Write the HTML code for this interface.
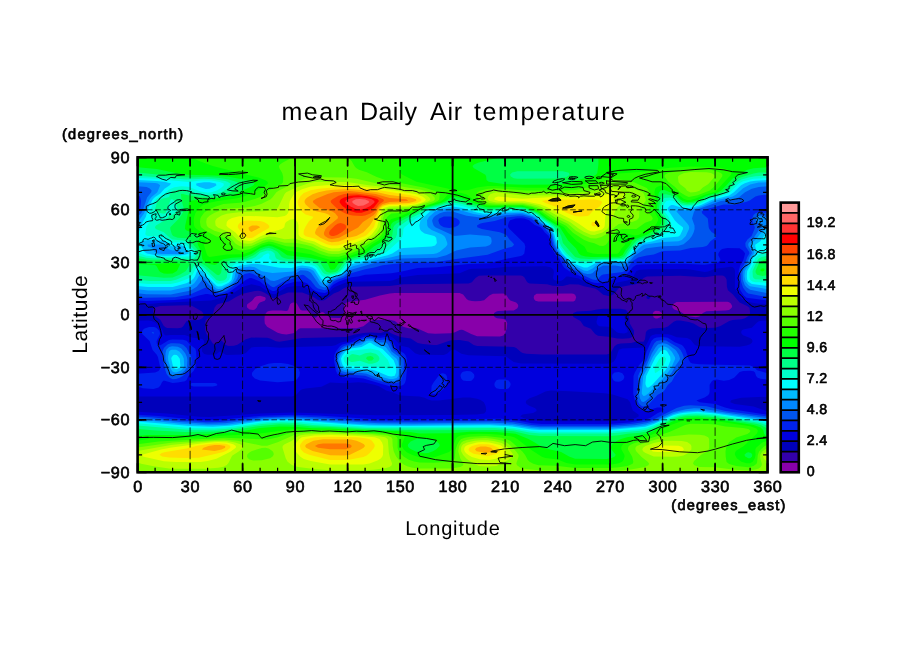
<!DOCTYPE html>
<html><head><meta charset="utf-8"><title>mean Daily Air temperature</title>
<style>
html,body{margin:0;padding:0;background:#fff}
svg{display:block;will-change:transform}
text{font-family:"Liberation Sans",sans-serif;fill:#000;text-rendering:geometricPrecision}
.b{font-size:16.2px;letter-spacing:.7px;stroke:#000;stroke-width:.65px}
.t{font-size:25px}
.a{font-size:20px}
#lat{font-size:21px}
.u{font-size:14.6px;stroke:#000;stroke-width:.7px}
</style></head><body>
<svg width="904" height="654" viewBox="0 0 904 654">
<rect width="904" height="654" fill="#fff"/>
<clipPath id="c"><rect x="137.6" y="157.3" width="630.0" height="315.0"/></clipPath>
<g clip-path="url(#c)" shape-rendering="geometricPrecision">
<rect x="137.6" y="157.3" width="630.0" height="315.0" fill="#8800aa"/>
<path fill="#3300aa" d="M137.6 157.3l630 0 0 315 -630 0zM254.8 297.3l-2.7 3.5 -4.8 3.5 -0.5 1.7 0.5 1.8 2.3 1.8 3.5 0.4 1.7-0.5 1.8-1.7 1.6-3.5 1.7-1.7 4.8-1.8 1.1-1.7 -0.6-1.8 -5.1-1.5 -3.5 0.4zM389.6 293.4l-9.7 2.2 -14.8 4.2 -17.5 2.1 -1.8 1.1 -1.8 3 0 7 -1.2 3.6 -2.2 1.3 -1.8 0.2 -8.7-0.4 -7-5.4 -1.7 0 -1.8 1.3 -2.3 3 -1.2 0.9 -1.7 0.2 -1.8-1.1 -1.8-3.6 -1.7-2 -1.7-0.6 -5.3 0.1 -1.7-0.8 -3.6-6.3 -1.7-0.9 -1.8-0.1 -1.7 0.5 -1.5 1.4 -2 5.9 -1.7 0.9 -5.3-0.6 -8.7-0.1 -3.6 0.5 -1.7 0.8 -2.3 3.1 -0.3 5.2 0.3 3.5 2.3 3.2 10.5 6 4.3 1.3 4.5 0.4 7-1.1 1.8-1 3.4-3.4 1.8-0.6 56-0.1 7-2 5.7-4.4 4.2-1.8 16.3-0.3 5.2 1.4 5.5 4.2 3.5 1.7 5 1.2 9.4 0.6 9.9 4.4 7 0.5 15.7-0.5 3.6-0.7 5.2-2.5 1.8-0.3 1.7 0.3 8.1 4 5.9 2.3 22.7 0.3 3.6-1.2 1.7-2.1 1.5-4.5 0.6-5.2 -0.5-1.8 -1.6-2.1 -1.7-0.8 -6.4-0.6 -2.4-1.3 -1-2.2 0.6-1.8 2.2-1.5 1.7-0.5 15.7-0.6 3.6-2.1 0.9-2.3 -0.5-1.7 -1.7-1.7 -5.7-2.2 -1.8-1.6 -2-3.2 -1.5-1.4 -1.7-0.6 -10.5 0.2 -3.5 1.7 -5.3 4.7 -3.5 0.9 -5.2 0.1 -3.6-0.1 -3.4-0.9 -1.8-1.3 -3.5-4.4 -3.5-1.4 -64.8-0.2zM536.6 293.7l-2.4 1.9 -0.5 1.7 0.3 1.7 1.4 1.8 3 0.8 33.2 0 1.8-0.2 1.7-1 1.1-3.1 -1.1-2.6 -1.7-1 -1.8-0.2zM655.6 310.7l-1.8 1 -0.8 1.3 -0.3 1.8 1.1 2.6 1.8 1 1.8 0.1 3.4-1.5 1.4-2.2 -0.4-1.8 -2.7-2zM676.6 302l-3.5 2.1 -0.9 2 0.4 1.7 1.7 1.8 5.8 1.8 7 4.5 8.7 1.4 3.6-0.8 3.5-3.5 3.5-1.7 19.2-0.7 3.5-0.6 2.6-2.2 0.5-1.8 -1.4-2.5 -1.7-1.2 -1.8-0.5z"/>
<path fill="#0000bb" d="M137.6 157.3l630 0 0 315 -630 0zM160.3 306l-6.2 1.8 -0.8 1.8 0.1 3.4 1.6 2.9 5.3 3.9 3.4 5.9 1.8 1.6 1.8 0.6 10.4 0.3 3.6-0.5 1.7-1.2 3.5-5.2 3.5-1 8.7-0.4 3.6-1.6 1.4-1.7 -0.6-3.6 -1.6-1.7 -9.7-5.6 -5.3-0.5zM478.9 275.8l-3.4 2.2 -3.6 4.3 -3.4 1.3 -64.8 0.6 -14 1.9 -42 0.6 -4.3 1.9 -4.5 2.8 -5.2 2 -8.8 6.7 -1.7 0.5 -3.5 0 -1.8-0.5 -5.2-3.7 -10.5-3.8 -14 0 -8.7 3.1 -5.3 2.7 -1.7-0.5 -7-4.7 -3.6-1.6 -3.4-0.9 -3.6 0.2 -12.2 2.9 -7.1 3.5 -6.9 4.2 -10.5 2.6 -1.7 0.9 -2 2.8 -1.6 6.5 -1.2 2.3 -4 1.8 -2 1.6 -0.5 3.6 0.1 7 1.3 3.4 6.3 9.5 1.8 1 1.8-0.4 3.4-3 1.8-0.5 3.5 3.8 1.7 1.1 1.8 0.4 5.2-0.2 3.5-0.9 8.4-5.5 5.7-1.7 15.7 0.1 3.5 1 5.2 2.5 3.6 0.5 22.7-3.7 43.7-1 8.8-2.6 8.8-1.4 7-0.4 10.4 0.5 5.3-2 1.7 0.4 4.8 2.6 7.5 2.8 10.5 1.5 7 4.5 5.2 1.2 10.6 1 3.4-0.2 14-4.6 8.8-0.3 8.8 1.6 5.2 3.4 3.5 0.9 36.7 1 2.4 1.1 4.6 4.1 1.8 1 3.5 0.7 15.7 0.8 64.8 0 3.5-1.1 4.3-7.2 2.7-2.1 3.5-0.8 10.5-0.3 5.3-1.7 7 0.3 1.5-2.4 0.9-7 1-1.6 1.8-1.3 3.5-0.9 12.3-0.7 3.4-1.4 5.7-4.6 3.1-1.4 3.5 0 8.7 1.5 4.7 1.7 5.9 3.4 3.4 0.9 12.3-0.1 5.3-1.7 8.7-5.2 3.5-1 8.8-0.7 3.4-1 3.6-2.2 1-1.2 0.6-1.8 -0.6-5.2 -2.4-1.8 -7.5-3.4 -6.9-8.4 -4.8-3.9 -1-3.5 -0.3-7 -0.9-2.1 -1.7-1.6 -1.8-0.5 -5.3-0.1 -12.2 1.8 -24.5-1.6 -33.3 0.8 -3.3 1.5 -3.7 3.9 -3.4 2.2 -14.7 2.7 -2.9 1.2 -5.2 6.2 -3.5 1.7 -1.7 0.2 -5.3-1.3 -5.2-4.5 -2.9-1.7 -11.2-2.4 -5.2-1.8 -8.7-0.2 -7.1 1.7 -5.2 0.2 -5.2-0.4 -5.3-1.4 -17.5-0.8 -1.8-0.7 -1.2-1.2 -2.2-4 -1.8-1.5 -1.8-0.5 -36.7-0.2zM647.2 295.6l1.4-0.5 1.8 1.5 0 1.2 -1.8 1.5 -1.8-0.9 -0.4-1.1zM596.9 309.6l6.2-0.8 17.5 0 5.2 1 2.8 3.2 1.2 10.6 4.1 7 0.2 3.4 -0.7 1.8 -2.2 1.8 -1.8 0.7 -7 0.5 -5.3-0.3 -8.7-1.8 -10.5-0.9 -2.8-1.8 -4.3-5.2 -7-2.7 -3.4-5.1 -7-4 -1-2.2 1-1.8 3.4-1.6 14-0.6z"/>
<path fill="#0000dd" d="M137.6 157.3l630 0 0 147 -10.5-0.7 -8.7-1.6 -3.6-1 -3.4-2.5 -6.5-9.9 0.1-17.6 -0.6-2.3 -1.8-1.6 -1.8-0.3 -15.7 2 -7 2.6 -3.5 0.6 -14-2.5 -5.2-0.4 -36.8 0.1 -8.8 0.6 -3.4 1.3 -3.6 6.3 -1.7 1.7 -3.5 1.4 -10.5 2 -1.7 1.3 -4.1 4.8 -2.9 1.3 -1.8-0.4 -5.2-3.1 -7-1 -5.3-1.4 -10.5-5.4 -10.5-2.2 -1.7 0 -3.3 3.4 -2 0.9 -3.5 0.2 -3.5-0.8 -1.2-2.1 0.9-5.2 0-1.8 -0.7-1.7 -2.5-2.1 -5.2-0.9 -38.6 0.4 -17.4 1.8 -17.6 0.3 -3.4 0.6 -8.8 3.9 -42 1.7 -17.5 2.5 -7 2.8 -3.5 0.8 -40.2 0.7 -3.6 0.8 -10.4 4.1 -2.8 1.9 -4.3 5.2 -1.7 1.2 -3.5 0.7 -3.5-0.3 -3.5-1 -5.3-2.8 -6.3-4.8 -4.1-0.8 -7 0.2 -7 1 -10.5 6.6 -1.8 0.5 -1.7-0.3 -3.6-1.7 -8.7-6 -8.7-2.1 -8.8 2.8 -10.1 6.8 -3.9 1.9 -17.5 4.8 -52.5 2.5 -14 1.5 -7-0.2zM599.5 314.8l3.6-1 12.3-0.1 5.2 0.1 3.2 1 0.8 1.8 0.5 8.7 2.5 5.3 0 1.7 -3.5 1.1 -5.3-0.3 -1.9-0.8 -5.1-4.5 -3.4-1 -8.8-0.6 -1.7-0.9 -1.1-1.7 -0.3-1.8 1.3-5.2zM137.6 321.8l0-1.1 10.5-0.1 3.5 0.5 3.5 1.3 5.3 4.5 2.2 3.7 1.2 3.3 1.8 1.5 5.2-0.5 14 0.2 7 2.4 10.6 1.4 1.7 2.1 -0.1 1.8 -2.1 5.2 0.2 3.6 2 2.4 3.5 0.8 7 0 1.8-0.5 3.4-2.8 1.8 0.6 3.5 2.5 1.7 0.3 15.8-0.3 3.5-1.8 5.3-5.2 3.4-0.7 12.3-0.1 12.3 1 17.4-0.9 35-0.8 3.6-0.9 5.2-2.7 7.6-1.5 8.2-3.8 8.7-2.4 7-0.3 8.7 1.2 5.3-1.1 1.7 0.3 4.7 2.7 2.3 1.7 5.3 5.8 1.7 1 7 1.4 6.3 5.8 4.3 1.4 24.4 0.3 3.6-1.4 3.4-3.3 1.8-0.9 2.4 0.4 6.4 3.9 7 1.5 36.7 1.1 1.7 0.7 6.9 5.1 7.1 1.5 84 0.2 5.3-0.3 3.5-1.7 2.3-3.2 2.9-8.9 3.6-1.1 21-1.2 1.7-1 1.7-2.4 3.6-7.6 1.7-1.2 3.5-0.9 12.3-0.1 3.5 0.8 5.2 2.2 10.5 0.9 3.5 1.7 3.8 4.8 1.4 0.9 3.6 0.8 40.2 0.4 7-1.1 3.5-1.3 1.8-1.5 0.7-1.8 -0.8-1.7 -1.7-1.4 -7-2.7 -1.3-1.2 -0.7-1.7 0.6-1.7 1.4-1.1 8.7-1.7 5.3-5.3 1.7-1.2 3.6-0.6 5.2 0 0 76 -26.2 1.1 -8.8 2 -1.8 0.8 -0.5 1.7 4.4 1.7 18.9 2.6 14 4.9 0 60.8 -630 0 0-60.5 29.7 1.7 31.5 3.2 10.6 0.2 50.7-3.4 33.3-1.1 82.2 2.9 73.5-0.2 28-0.6 7-0.9 1.7-1.8 0.4-2.5 -0.7-3.5 -1.6-3.5 -3.3-2.4 -3.5-1.2 -7-1.1 -7 0 -24.5 2.8 -7 0.1 -3.5-1 -3.5-1.8 -5.2-1.2 -19.3-1.1 -7-2.8 -7-2.1 -6.6-3.9 -5-1.8 -9.4-2 -7-0.6 -14 1.1 -14-0.9 -8.7 4.3 -15.8 1.7 -3.5 0.9 -1.7 1 -4.6 5 -4.2 1.1 -154 0.2zM545.4 391.4l-8.8 4.3 -7 2.5 -3.3 2.4 -0.6 1.7 0.8 1.7 2.7 1.8 5.6 2.3 1.5 1.2 0.3 1.8 -3.5 2 -10.5 1.5 -2.4 1.7 3.3 1.7 6.1 2 15.8 1.3 64.7-0.1 19.1-1.4 6.4-1.8 3.2-1.7 -0.3-1.7 -5.7-4.2 -2.7-8.1 -2.5-3 -15.8-5 -7-1 -35-2.1 -19.2-0.7z"/>
<path fill="#0022ee" d="M137.6 157.3l630 0 0 143.3 -21-2.9 -2.8-2.2 -3.4-5.2 -1.6-5.3 -0.1-14 1.4-5.2 3.1-5.2 1.9-7 -2-2.9 -3.5-2.4 -12.3-0.2 -5.2 1 -1.7 1.1 -2 3.4 -0.1 1.7 1.9 3.5 0.2 1.8 -2.1 1.7 -3.2 0.9 -10.5 1.5 -21-1 -40.2 0.5 -7 0.5 -3.5 2.2 -6.4 7.7 -2.4 1.6 -8.7 1.3 -7 4.7 -5.3-0.3 -5.3 1 -3.4-0.1 -3.6-1 -13.9-7.4 -7.1-2.8 -5.2-3.5 -1.8-2.3 -3.4-6.9 -3.5-3.6 -4.2-7 -2.9-12.3 -4-3.4 -2.4-3.6 -2-1.7 -5.6-2.4 -5.7-4.6 -4.8-1.7 -3.5-0.4 -5.3 0.4 -5.3 1.7 -1.2 1.7 -1.1 3.6 0.3 1.7 1.4 1.8 14.8 14.5 0.9 3 -1 7 -1.7 1.7 -1.8 0.7 -17.4 3.4 -14 3.8 -21 0.9 -31.6 3.2 -19.2 0.6 -15.8 3.5 -10.4 1.8 -26.3 1.6 -7 1.7 -7 0.8 -12.2 4.3 -5.3 2.9 -2.4 2.3 -2.8 3.9 -1.8 1.6 -1.8 0.6 -5.2-0.6 -3.5-1.1 -3.5-2.2 -5.2-5.4 -3.6-1.7 -3.4-0.4 -5.3 0.3 -8.7 2.1 -5.3 2.5 -5.3 4.2 -1.7 0.5 -1.7-0.1 -3.6-2 -8.7-7.4 -8.7-3.7 -1.8 0.2 -3.5 1.7 -17.5 12.8 -7 2.6 -5.2 0.6 -8.8-1.8 -1.8 0 -6.9 1.4 -8.8 2.9 -15.7 1.7 -28 1.1 -8.8-0.5zM149.1 327.1l4.3-0.2 1.7 0.4 1.7 1 2.4 2.4 0.7 1.7 0.1 1.7 -3.4 7.1 0.2 2.5 1.8 1.8 1.8-0.2 8.7-5.2 3.5-0.5 10.5 0.2 3.5 1 3.5 4 5.3 4 0.7 2.9 0.4 6.9 -1.2 8.8 -1.8 3.5 -5.1 5.1 -1.8 3.9 -1.7 1.3 -7.1 1.4 -5.2 0.3 -8.8-2.3 -1.7 1.3 -1.7 3.7 -1.8 1.9 -5.2 1.4 -10.6-0.7 -3.4-1.2 -1.7-2.1 -0.1-11.2 17.5-1.3 3.5-1.5 1.3-1.8 0.4-1.7 -2.4-10.5 -1.1-2.2 -4.2-4.8 -3-8.8 -7.3-7 -0.5-1.7 1-2.3 1.8-1.5zM362 337.6l3.1-1.2 5.3-0.6 8.7 2.1 7-0.9 1.7 0.5 4.4 3.5 4.4 7.8 7.3 4.5 1.5 1.7 1.4 3.6 0.3 8.7 -1.1 12.3 -1.1 3.4 -1.5 1.8 -3.3 1.5 -10.5-0.1 -26.2-7.6 -7-0.9 -14-0.5 -4.8-2.9 -1.7-3.5 -1.9-10.5 0.4-5.3 1.5-3.4 4-5.3 2.5-1.7 10.4-2.9zM656.6 337.6l6-0.5 5.2 0.7 7 4.5 7.1 2.8 1.7 1.6 1.9 3.1 3.4 10.5 1.7 2.5 1.8 0.7 7 0.7 50.7 1.2 4.2 1.9 2.8 2.9 10.5 3.1 0 7.6 -1.8-1.6 -5.2-0.5 -2.9-1 -1.6-1.8 -1.1-3.4 -1.4-1.4 -3.5-0.4 -7 0.2 -3.5 1 -5.5 5.8 -5 2.1 -5.3 0.8 -7-1.1 -3.4 0.5 -1.8 1.3 -2 3.4 0 7 -0.3 1.8 -1.2 1.7 -3.5 2.2 -8.2 3.1 3.2 1.7 15.5 1.7 9.9 3.6 6.8 1.7 35.8 5.4 0 57.6 -630 0 0-57.5 21 1.1 38.5 4 10.5 0.4 8.8-0.1 45.4-4.4 31.6-1 24.4 0.7 64.8 4.2 119-1 15.8 1.8 14.6 2.8 9.8 0.8 68.3-0.1 19.3-1.6 15.9-2.6 4.9-1.8 7.2-4.7 5.2-2.3 1.1-1.7 -1.9-1.7 -4.4-0.2 -3.6 1 -5.9 2.7 -2.8 0.2 -3.5-1.3 -3.6-2.4 -2.2-3.6 -2.6-10.5 0.3-17.5 1.3-3.4 4.1-7.1 5.9-6.9 1.8-7 4.8-10.6 2.4-2.4zM268.3 363.8l5.8-0.8 7 0 7 1.1 5.3 1.7 3.4 1.7 1.9 1.5 1.2 3.6 -0.5 3.4 -2.6 3.5 -3.4 1.6 -15.8 1.1 -17.5-1.7 -5.3-2.1 -2.5-2.4 -0.4-1.7 0.3-1.7 3-3.6 4.9-2.6zM462 372.6l1.1-0.9 3.5-0.6 3.5 0.2 1.7 0.6 2.2 2.4 0.4 1.7 -0.3 1.8 -2.3 2.6 -1.7 0.5 -3.5 0.1 -3.5-0.6 -1.7-1.6 -0.9-2.8 0.3-1.7zM614.6 372.6l4.2-0.5 3.5 1.2 1.9 2.7 0 1.8 -0.8 1.8 -2.5 1.7 -2.1 0.4 -3.4-0.3 -1.8-0.8 -1.5-2.8 -0.1-1.8 0.6-1.7zM439.8 374.3l2.3-1.1 1.7 0.2 1.8 0.9 1.2 1.7 0.5 3.6 -0.4 5.2 -2.6 3.5 -4.2 3.5 -3.3 1.8 -3.4 0.3 -1-0.3 -1.1-1.8 0.3-5.7 1.6-3.1zM499 379.6l6.1-0.1 3.5 0.9 1.8 2.6 0.2 1.8 -0.6 1.8 -1.4 1.6 -1.8 0.8 -7 0.1 -3.4-0.9 -1.5-1.7 -0.5-1.7 0.2-1.8 1.8-2.7zM191.5 383.1l23.1-0.1 1.8 0.6 1.1 1.3 -1.1 0.9 -3.6 0.8 -19.2-0.1 -1.8-0.4 -1.6-1.2z"/>
<path fill="#0055ee" d="M137.6 157.3l630 0 0 37.6 -3.5-0.2 -5.3 0.7 -3.4 1.2 -5.3 3.7 -3.5 1.5 -12.2 2.9 -10.6-0.2 -19.6 5.3 -2.5 1.8 0.4 1.7 5.7 5.3 0.9 8.7 0.6 1.7 2.3 3 3.5 2.3 1.2 1.7 -1.2 1.8 -4.7 3.5 -2.5 3.5 -1.5 1.3 -3.6 0.9 -12.2 1.1 -10.5 2.3 -17.5 0.7 -8.8 3.3 -7 1 -8.7 2.2 -5.3 3.4 -5 6.6 -3.7 3.6 -1.7 0.8 -19.3 2.5 -1.7 0.7 -3.6 3.9 -1.7 0.8 -3.5-0.5 -8.7-3.8 -7.1-4.3 -7-2.8 -3.2-2.7 -4.3-7 -5.2-5.2 -3.6-7 -2.9-11.2 -6.7-8.1 -6.1-3.5 -6.4-5.4 -8.8-2.2 -5.2 0 -12.3 1.5 -10.5 3.3 -12.2 2.1 -2.6 0.7 -2.8 1.8 0.3 1.7 4.5 1.7 18 3.2 5.3 2 2 1.8 2.4 3.6 3.5 3.4 1.1 1.8 -2 2 -8.7 2.2 -15.8 5.8 -35 4.6 -17.5 2.9 -33.3 0.7 -19.2 2.3 -8.2 2.3 -9.3 1.7 -14 3.9 -7 4.2 -7 2.4 -3.4 1.8 -7.1 8 -1.8 0.7 -6.9-1.8 -2.3-1.7 -4.8-6.2 -7-5.6 -1.7-0.3 -1.7 0.5 -5.3 2.7 -12.3 4.1 -8.7 5.3 -1.7-0.2 -1.8-1 -8.8-7.4 -8.7-4.7 -3.5-1 -5.2 1.1 -1.8 1.7 -2.2 4 -3.5 3.5 -10.1 7.5 -5.2 2.3 -3.5 0.4 -3.5-0.7 -5.3-3.9 -3.5-1.5 -15.7 7.2 -15 2.7 -30.5 0.5 -7-0.7 0-85 2.2-2.3 0.6-1.8 0.6-7 -0.7-3.4 -0.9-1.7 -1.8-1zM443.9 216.4l-4.6 2.2 -1 1.7 1 3.5 1.5 1.8 3.1 1.7 5.3 0.6 5.2-0.6 3.6-1.7 1.4-1.8 0.3-1.8 -0.6-1.7 -2.4-1.7 -5.8-2zM755.5 213.3l3.3-1 7 0.4 1.8-0.6 0 85 -19.3-3.5 -2-1.6 -3.2-4.3 -2.1-6.1 -0.3-8.8 0.7-3.5 4-7 1.9-5.3 2.1-3.4 -0.3-1.8 -3.5-5.2 -0.3-3.6 2.2-3.4 4.1-3.6 2.9-7 0.4-1.7 -2.2-5.3 -0.5-3.4 1.3-3.6zM151.6 332.3l2.2 0 -0.4 1.6zM366.7 337.6l5.4-0.2 7 2.7 7-0.7 1.7 0.8 2.3 2.6 3.1 7 9.3 7 1.3 3.5 0.1 7 -1.3 8.7 -1.3 3.6 -1.3 1.7 -1.6 1.1 -3.6 0.8 -7-0.3 -12.2-3.2 -10.5-3.9 -21-1.5 -3.5-1.4 -1.8-1.9 -1.4-3.7 -1.4-8.7 1.6-5.3 3.6-5.3 2.9-2.1 10.9-3.1zM656.7 341.1l4.1-0.8 5.3 0.3 12.3 7.2 2.1 2.1 1.9 3.5 1.3 3.5 0.1 3.5 -5.4 10.5 -3.8 5.3 -2.8 5.2 -4 3.5 -3.1 5.2 -1.9 1.8 -5.4 3.1 -8.8 9.5 -3.5 1.9 -1.7 0.1 -1.8-0.4 -2.3-2 -1.2-2.2 -1.1-4.8 -0.2-5.2 1.4-7 -0.1-8.8 1.3-3.4 7.4-12.1 3.1-8.9 3.5-7 1.1-1.8zM167.5 344.6l3.3-1.3 3.6-0.1 5.2 0.4 3.5 1.2 3.5 3.1 4.5 8.9 0.4 3.5 -0.5 5.3 -1.4 3.4 -6.5 6.8 -3.5 2 -3.5 1.1 -3.5 0.3 -2.9-1.4 -3-3.5 -1.2-3.5 -2.8-12.2 -0.2-7.1 1.4-3.5zM684.3 405.8l6.3-0.5 15.8 1 19 4.7 42.2 5.6 0 55.7 -630 0 0-55.7 14 0.7 28 3 26.2 1.9 14-0.3 42-4.6 33.3-1 31.5 1.5 29.8 2.7 19.2 1.1 33.3 0.2 87.5-0.8 17.4 1.1 17.6 2.9 8.7 0.7 68.3 0.1 24.4-2 14.2-2.2 6.1-1.8 23.5-11.9z"/>
<path fill="#0088ff" d="M137.6 157.3l630 0 0 28.9 -8.8 0.8 -7 1.8 -6.8 3.5 -5.4 4.4 -3.5 2 -3.5 1.1 -11.7 1.2 -24.5 8.8 -2.3 1.8 -2.1 7 2.5 7 0.1 3.4 -1 3.6 -1.7 3.4 -2.7 3.6 -5.6 4.6 -5.2 1.6 -15.8 0.5 -15.8 1.9 -1.7 0.6 -10.5 6.9 -7 7.9 -3.5 2.8 -1.7 0.4 -7-1.4 -12.3 0.2 -6.5 3.7 -4 3.7 -1.8 0.8 -3.4 0.2 -3.6-0.8 -5.2-3.3 -5.9-2.3 -2.9-1.8 -5.5-7 -4.9-4.7 -1.7-2.3 -3.2-7 -2.2-8.8 -3.5-5.8 -3.4-3.6 -7-4.5 -3.7-3.5 -3.3-1.8 -8.8-2.3 -3.5-0.2 -12.3 0.8 -15.7 2.5 -10.5 0 -14-1.8 -14-4.2 -5.2-0.2 -3.6 0.5 -4 1.4 -4.7 2.6 -1.7 1.8 -1.2 2.6 0.2 1.7 1.2 3.6 1.7 1.7 19.1 8.6 15.7-1.3 18.5 1.4 2.5 1.8 0.6 3.5 -0.6 2.4 -1.7 1.6 -3.6 1.1 -15.7 1.1 -14 2.9 -9.9 4.9 -9.4 2.4 -35 0.9 -24.9 3.7 -25.8 7.5 -7 5.6 -11 4.4 -6.5 6.8 -1.8 0.8 -2.4-0.6 -2.8-1.6 -8.7-12.4 -3-1.8 -2.3-0.6 -5.2-0.1 -7 4.6 -8.8 2.2 -7 3 -3.5 0.9 -3.5-0.5 -5.2-3.8 -7-3.2 -5.3-3.4 -5.3-0.7 -5.2 0.7 -2.2 0.9 -1.5 1.8 -1.5 5.2 -2.2 3.6 -4.8 4.4 -5.3 3.4 -3.5 1.5 -3.5 0.4 -2.9-1 -5.8-5.3 -3.6-4 -1.7-1.2 -1.7 0 -5.7 7 -4.9 3 -3.4 1.2 -17.6 3.5 -24.4-0.2 -8.8-1.1 0-76.6 3.5-3.4 1.7-2.7 4.3-12.9 4.1-5.3 0.4-1.7 -1.8-2.1 -3.2-1.5 -9-0.8zM756.8 216.8l2.1-1 1.7-0.1 5.2 1.4 1.8-0.5 0 76.6 -17.5-3.5 -3.5-2.4 -1.8-2.1 -2-5.4 -0.2-7 0.5-2.4 4.6-8.1 1.8-5.3 2.4-3.4 -0.1-1.8 -3.2-5.2 -0.4-1.8 0.4-1.8 5.2-5.2 7.1-10.5 -0.3-1.7 -3.5-3.5 -1.1-1.8 -0.2-1.7zM366 339.3l2.6-0.6 3.5 0.2 7 3.5 7 0.2 1.7 1.7 3.8 7.3 7.1 5.2 1.4 1.6 1 3.6 0.2 7 -1 7 -1.9 3.3 -3.6 1.6 -7-0.2 -10.4-2.8 -10.6-4.1 -5.2-0.7 -15.7-0.8 -3.5-1 -1.8-1.4 -2-4.3 -1-7 1.1-3.6 3.3-5.2 3.8-2.8 14-3.9zM658 344.6l4.6-1.3 3.5 0.4 1.9 0.9 7.3 5.2 1.3 1.4 2.3 3.8 1.1 3.6 -0.5 1.7 -3.8 5.3 -3.9 7 -5.2 7 -12.8 12.6 -5.2 6.4 -3.5 2.6 -1.7 0.7 -1.8-0.5 -1.8-3.3 -0.7-4.5 1.3-8.8 0.5-8.8 5.9-10.8 5.1-11.9 3.7-6.1zM172.2 346.3l5.6 0.4 3.5 1.8 3.9 4.8 1.6 3.5 0.6 3.5 -0.5 7 -2.1 3.1 -3.4 3 -3.6 1.6 -3.5 0.8 -1.7-0.3 -1.7-1.2 -1.8-2.5 -1.7-4.5 -2-8.7 0.1-5.3 0.8-3.5 2.8-2.8zM686 409.3l8.1-1.1 7 0.2 25.8 4.4 40.7 5.4 0 54.1 -630 0 0-54.1 12.2 0.6 29.8 3.2 28 1.8 17.5-0.6 36.7-4.6 15.8-0.9 15.8-0.2 35 2.1 28 2.5 22.7 1.1 35 0.2 75.3-0.9 22.7 1.1 19.3 2.9 8.7 0.7 68.3 0 26.2-2 12-1.9 10.6-3.5 15.9-7.6z"/>
<path fill="#00bbff" d="M137.6 157.3l630 0 0 25 -8.8 0.3 -8.7 1.8 -7 3.8 -7 6.2 -3.5 2.1 -19 4.5 -10.8 5 -14 4.6 -11.2-0.8 -1.2 1.8 10.7 11.6 1.6 2.4 0.5 1.7 -0.2 1.7 -3.2 7 -4 4.1 -3.4 1.2 -15.8 0.7 -18.7 2.8 -2.9 1.8 -8.2 7.9 -5.2 6.5 -1.8 1.2 -3.4 1 -7-0.7 -14 0.3 -3.5 1.2 -5.3 4.5 -5.2 2.6 -3.5-0.5 -5.3-2.9 -5.2-2 -5.3-4.2 -3.6-4.5 -4-3.4 -2.9-4.8 -1.8-4 -2.9-10.5 -3.1-5.3 -3.7-3.4 -5.6-3.6 -3.9-3.6 -3.5-2.2 -10.5-3.2 -3.5-0.3 -14 0.6 -15.7 2.4 -7-0.2 -8.8-1.4 -17.5-5 -5.3-0.5 -10.2 1.2 -5.5 1.8 -6 5.2 -2.1 3.5 0.3 5.3 0.8 1.7 3.5 2.6 9.9 4.4 2.7 1.7 1.2 1.8 1.9 5.2 0 1.8 -1.7 2.3 -5.8 4.7 -3 1.4 -3.4 0.8 -33.3 0.9 -8.7 2.4 -17.6 3.4 -21 5.5 -3.4 1.9 -6.8 6.5 -9.2 3.4 -3 1.8 -3.8 3.4 -1.8 0.7 -1.7-0.3 -2.8-2 -6.6-10.6 -2.8-1.7 -3.5-1 -7-0.5 -1.8 0.5 -5.2 3.1 -21 1.5 -10.6-1.6 -7-4 -5.2-0.7 -7.2 1 -5 1.9 -1.8 2.7 -1.1 5.8 -1.9 3.6 -4 3.4 -7 3.7 -3.5 0.3 -1.7-0.6 -5.3-4.7 -4.9-5.6 -5.6-3.1 -1.7 1 -2.1 3.8 -2.6 3.5 -2.4 1.8 -3.4 1.6 -17.6 3.9 -22.7-0.2 -10.5-1.2 0-64.9 2.8-5.7 3.8-5.3 3-8.7 2.6-5.3 1.8-2.4 5.7-4.6 2.9-7 -2.4-1.7 -2.7-0.5 -17.5-0.8zM148.1 244.5l-0.7 0.3 0.6 1.8 4.6 1.7 1.8 3.5 3.1 1.8 4.6 0.5 15.7-0.2 2.1-0.3 1.3-1.8 -1.6-1.3 -1.8-0.5 -5.2 0.5 -3.5-0.9 -7-5zM766.9 225.6l0.7-1.3 0 64.9 -17.5-3 -1.8-1.2 -2.8-3.4 -1-5.3 0.4-5.3 4.1-7 2.4-7 2.5-3.4 0.1-1.8 -3.2-7 0.8-1.8 4.3-3.4 3.9-5.3 5.1-5.3zM366.3 341.1l2.3-0.7 3.5 0.3 5.3 3.6 7.2 2.1 1.5 1 5.3 7.1 5.3 4.2 1.5 3.4 0.8 5.3 -0.4 7 -0.5 1.7 -1.4 1.8 -3.6 1.1 -3.5 0 -8.8-2.2 -7-3.3 -5.2-1.6 -5.2-0.7 -15.8-0.7 -3.5-0.7 -1.8-1 -1.9-3.1 -1.3-7 1.5-3.6 3.5-4.9 5.3-2.8 12.1-2.7zM658.9 348.1l1.9-1.1 3.6-0.5 3.4 1.3 4 3.9 3.1 5.2 0.3 1.8 -3.9 9 -5.2 7.2 -17.5 18.3 -3.5 2.6 -1.7 0.2 -1.6-2.3 0-1.8 1.5-15.8 3.9-7 5.6-12.2zM172 349.8l4.1 0 3.2 1.8 2.9 3.4 1.6 3.6 0.3 6.9 -0.4 1.8 -1.2 1.7 -2.1 1.8 -4.3 1.6 -1.8-0.1 -1.7-0.9 -1.8-2.3 -2.6-8.8 -0.2-3.5 1.1-5.2 1.7-1.5zM688 411.1l7.8-0.7 5.3 0.2 66.5 9.2 0 52.6 -630 0 0-52.6 10.5 0.6 33.3 3.4 26.2 1.5 19.2-0.6 36.2-4.8 14.6-1 15.8-0.1 59.2 4.6 23 1.1 35 0.3 78.8-0.7 22.7 1 19.3 2.9 8.7 0.7 68.3 0 26.2-2 10.5-1.4 10.5-3.3 17.5-8.1 7-1.8z"/>
<path fill="#00ffff" d="M137.6 157.3l630 0 0 22.8 -12.2 0.6 -5.3 0.8 -5.3 1.7 -3.7 2.1 -7.2 7 -4.8 3.1 -17.5 4.6 -10.5 5.1 -7 2 -7 1.2 -7-1 -7-2.3 -1.7 0 -1.8 0.9 -1.7 2.1 -0.1 1.8 7.1 10.6 3.5 3.6 4.5 3.3 0.1 1.7 -2.9 6.3 -1.7 1.1 -1.8 0.3 -14 1.4 -9.7 3.2 -11.3 2.3 -2.1 1.2 -6.7 7.3 -5.2 6.8 -3.5 2.4 -24.5 0.4 -2.4 0.6 -9.7 5.3 -3.7 0 -10.4-4.1 -3.6-2.6 -7.5-7.3 -4.7-7.6 -3.4-11.7 -2.6-5.3 -3.5-3.4 -6.3-4.1 -5.3-4.7 -3.1-1.8 -10.8-3.5 -3.5-0.3 -14 0.3 -14 2.2 -7 0 -7-1.1 -15-4.6 -9.5-1.5 -10.5 1.4 -8.7 2 -3.5 1.7 -9.4 8.7 -1.1 5.3 0.5 3.4 1.2 1.9 3.5 2.5 9.7 2.6 1.9 1.8 0.7 5.2 -1.8 2.5 -3.5 1.1 -28 1.3 -3.5 0.7 -7.8 5 -4.7 1.7 -36.5 8.9 -3.5 2.7 -3.5 4.4 -3.5 2.9 -8.8 3.1 -5.2 2.6 -3.5 0.2 -1.7-1.2 -6.2-9.6 -2.6-1.7 -3.5-1 -7-1.1 -3.5 0.4 -7 2.1 -12.2-0.2 -21.4-3.8 -4.9-0.3 -13.7 2.1 -3.8 1.6 -1.6 1.9 -0.7 1.7 -1.7 8.8 -3 3 -7 3.4 -3.5 0.3 -1.7-0.7 -14.8-14.8 -2.8-1.1 -1.7 1.2 -2 5.2 -1.5 2.3 -3.5 2.9 -3.8 1.8 -13.7 3.6 -24.5 0.1 -10.5-1 0-52.8 1.8-2.5 3.4-8.7 3.1-5.2 2.3-8.8 4.6-8.7 2.3-2.2 5.3-3.7 4.1-4.6 5.2-3.5 1.4-1.7 -6.6-1.8 -7.7-0.9 -19.2-0.8zM197.1 183.3l-0.8 0.3 -0.1 1.7 3.4 1.7 6.2 1.9 3.6-0.1 4.4-1.8 2.7-1.7 -0.7-1.7 -6.4-1.3 -5.3-0.1zM142.8 240.7l-1.7 1.2 -0.7 1.1 -0.1 1.8 4.1 7 2.5 1.8 8.7 1.7 6.5 0.5 17.5-0.2 5.2-0.8 4-1.2 -0.5-1.8 -4.9-5.2 -2-1.3 -1.8-0.3 -7 1.4 -1.8-0.7 -5.2-4 -3.5-1.2 -14-0.4zM766.3 234.3l1.3-1.1 0 52.8 -15.8-1.9 -3.4-2.4 -1.2-1.9 -0.4-3.5 0.4-5.3 4-7 1.3-5.2 3.9-5.2 0.4-1.8 -1.6-5.2 0-1.8 5.1-3.5 3.8-5.2zM369.2 342.8l1.4 0 5 3.3 7 2.9 11.1 11.3 2.6 7 -0.2 5.2 -1.3 3.2 -3.4 0.9 -3.3-0.6 -12.5-5.3 -3.5-1 -24.5-1.5 -3-0.9 -1.7-1.7 -1.4-3.6 -0.5-3.4 1.4-3 3.4-4.3 1.9-1.5 3.4-1.3 10.5-1.6zM664.2 349.8l1.9 0.7 1.1 1.1 3 5.2 0.3 3.5 -1.9 5.3 -3.5 5.2 -13 14.2 -3.5 2.5 -1.8 0 -1.2-2.7 -0.2-1.8 0.7-7 9.5-18.7 5.2-6.3zM173.5 355.1l0.9-0.3 2.2 0.3 1.2 0.8 2 2.8 0.6 7 -0.6 1.7 -2 1.4 -1.7 0.4 -1.7-0.8 -1.5-2.7 -1.7-7.1 0.5-1.7zM683.9 412.8l13.7-1 15.7 1.4 54.3 8.2 0 50.9 -630 0 0-50.9 52.5 4.7 22.7 0.6 19.3-1.2 31.5-4.5 14-1 15.8-0.1 54.2 4.4 21 1.2 38.5 0.4 82.3-0.6 22.7 1.1 19.3 3 8.7 0.7 68.3 0 36.7-3.4 8.7-2.8 19.3-8.7 5.3-1.5z"/>
<path fill="#00ffcc" d="M137.6 157.3l630 0 0 20.7 -14 0.7 -10.5 2.6 -4.3 2.3 -8 8 -3.5 2.4 -18.3 5.3 -9.6 5 -7 1.8 -5.3 0.6 -5.2-0.7 -3.5-1.4 -5.3-3.9 -3.5-0.5 -3 0.8 -2.2 2.4 -1.3 4.6 0.2 1.8 5.3 7 3.3 8.8 0.4 1.7 -0.4 1.7 -1.2 1.8 -2.9 2 -7 2.4 -8.7 4.3 -12.2 3 -2.8 2.3 -6 6.9 -5.1 7.1 -3.6 1.5 -22.8 0.3 -14 3.4 -8.8-1.2 -3.4-1.4 -3.6-2.6 -5.5-5.2 -4.9-7 -4.4-14 -3-5.3 -3.2-2.7 -7-4.5 -5.9-5.1 -11.5-4.4 -3.6-0.7 -14 0 -17.4 2.3 -3.6 0 -7-1.3 -15.7-4.7 -10.5-1.6 -17.8 3.4 -6 1.8 -2.9 1.8 -4.8 4.1 -5.2 2.9 -11.4 8.7 -1.1 1.7 -0.4 5.3 -1.2 3.5 -3 3.5 -11.9 10.5 -3.4 1.8 -14.9 4.8 -17.9 3.9 -3.1 1.9 -5.3 6.8 -2 1.8 -3.2 1.5 -8.7 2.5 -3.6 0.3 -1.7-0.6 -1.7-1.6 -4.9-7.3 -2.1-1.5 -3.6-1.3 -8.7-1.4 -14 0.9 -8.7-0.6 -3.6-0.7 -3.4-1.7 -3-2.5 -0.3-1.8 0.6-1.7 -0.8-1.7 -1.8-0.2 -3.5 1.9 -1.4 1.7 -2.7 1.8 -2.9 1.2 -12.2 2.7 -8.8 1.3 -1.8 0.9 -1.7 2.1 -0.8 2.3 -0.9 7.3 -1.3 3.2 -2.3 1.9 -5.2 1.9 -3.5 0.1 -1.7-0.6 -13.4-13.8 -2.4-1.6 -1.8-0.5 -1.7 0.3 -1.7 1.6 -2.6 5.5 -2.7 2.8 -3.5 1.9 -8.8 3.2 -7 1.6 -22.7-0.1 -10.5-1 0-31.4 3 2 5.7 2.1 14.1 1.4 28-0.5 4.6-1.3 1-1.7 -0.8-1.8 -4.2-3.5 -2.7-3.5 -2.5-1.8 -4.2-0.7 -7 0.3 -8.8-5.1 -3.4-0.7 -12.3-0.7 -1.7-0.6 -1.1-1.2 1.1-7.8 5.6-7.9 -1.5-5.3 -0.1-3.5 4-8.8 2.4-2.4 7.3-4.6 5-4.6 5.3-2.1 7-1 7 0.4 12.2 4.9 7 1.2 4-0.5 5.3-1.7 4.7-3.1 2.2-2.2 -0.2-1.7 -3.8-1.7 -8.7-1.4 -10.5 0 -12.2 1.4 -33.3-3.2 -17.5-0.7zM765.7 251.8l1.9-0.2 0 31.4 -7-0.8 -5.2 0.1 -3-0.7 -2.2-1.8 -0.6-1.8 -0.2-5.2 1.2-3.5 3-5.3 1.4-5.2 1.3-1.8 2.5-1.9zM360.3 349.8l10.1-1.4 8.7 2.2 8.7 9.2 2.9 7.5 -1.1 1.5 -1.8 0 -14-2 -22.7-1 -3.5-0.9 -1.8-1.1 -1.7-2.2 -0.6-3 0.8-1.8 3.3-3.7 3.5-2.4zM661.6 356.8l2.8-0.4 1.8 2.2 -0.3 1.7 -2.2 5.3 -2.9 4 -5.2 3.3 -0.8-0.3 -0.3-3.6 1-3.4 3.6-6.4zM679.8 414.6l16-1.5 17.6 1.2 45.4 6.9 8.8 2.1 0 49 -630 0 0-49 52.5 4.6 24.5 0.3 15.8-1.1 29.7-4.3 12.6-1.2 18.9-0.3 22.8 2 52.4 3.4 45.6 0.4 82.2-0.4 19.2 1.3 17.6 3 8.7 0.7 68.3 0 29.7-2.5 8.7-1.4 7-2.5 17.6-8.1z"/>
<path fill="#00ff88" d="M137.6 157.3l630 0 0 18.4 -12.3 0.5 -6.9 1.2 -7 2.1 -5.3 2.9 -7.5 8.1 -3 2.3 -5.2 2.1 -12.3 3.2 -8.7 4.7 -7 2 -5.3 0.4 -5.3-0.8 -3-1.6 -3.6-3.5 -2.1-1.1 -3.5-0.8 -5.2 0.6 -1.5 1.3 -0.8 1.7 -1.3 7.1 0.9 3.5 5 7 1.2 7 -0.2 1.7 -1.2 1.7 -15.4 8.8 -9.5 2.4 -3.5 1.5 -7.6 8.3 -4.7 7 -1.7 1.6 -1.7 0.5 -21 0.3 -15.8 1.8 -8.8-0.7 -3.4-1.3 -6.6-5.6 -5.7-7.7 -1.3-2.9 -3-10.4 -2.7-5.3 -4.3-3.5 -6.2-3.9 -7-5.8 -12.2-4.7 -3.6-0.6 -14-0.1 -17.4 1.8 -3.6 0 -24.4-6.7 -8.8-1.2 -26.2 6.7 -7 4.8 -9.1 4.5 -11.9 8.1 -1.2 2.3 -0.2 5.3 -1.3 3.5 -11.3 10.9 -5.1 3.1 -12.2 5.2 -17.7 4.1 -4.1 2.9 -5.1 7 -2.7 1.8 -2.1 0.7 -7 1.2 -3.6-0.7 -1.8-1.2 -4.8-7 -2.1-1.5 -3.5-1.2 -8.8-1.6 -17.4-0.2 -7-1.2 -2.8-1.3 -1.2-1.8 -0.8-3.4 -1.9-1.8 -2.1-1 -3.5-0.4 -7 2.4 -4.6 4.2 -3.7 1.8 -7.4 2 -10.6 1.1 -3.4 1.2 -1.4 0.9 -0.8 1.8 -1.4 11.9 -1.7 2 -1.7 0.7 -3.6 0.5 -3.4-0.9 -12.3-12.5 -3.5-2 -3.5-0.9 -1.7 0.2 -1.8 1.5 -3.3 6.5 -1.9 1.7 -12.3 5.3 -5.2 1.2 -21.1-0.1 -12.2-1.1 0-24.1 8.8 2 8.7 0.8 17.5-0.2 19.2 0.6 1.8-0.4 1.8-1.4 1.5-3.5 -1.5-3.2 -4.5-3.8 -4.3-5.1 -3.5-1 -10.5-1.1 -2.8-1.6 -6-5.5 -8-3.3 -0.9-1.7 1-1.7 8.9-5.3 4.3-4 5.3-2.7 2.1-2 0.9-1.8 -0.1-1.8 -2.8-7 -1.9-1.7 -1.8 0 -5.2 13.7 -1.8 0.7 -1.7-0.2 -5.3-1.4 -1.8-2.3 1.9-7 1.2-1.8 4-2.2 7-1.9 1.7-4.6 1.8-1.3 7-1.6 7 0.7 10.5 3.9 5.3 0.9 5.2 0.4 8.8-1.3 5.1-1.7 5.3-3.2 3.6-3.8 -0.1-1.7 -2.8-1.8 -2.4-0.8 -10.5-1.8 -10.5-0.5 -17.5 0.8 -49-3.8zM761.7 257.1l5.9-1.3 0 24.1 -12.3-0.6 -1.7-1 -0.8-1.9 -0.3-5.3 4.7-10.4 1.6-2.2zM365.2 353.3l5.2-0.9 5.2 1.4 1.8 1.1 1.6 1.9 0.5 1.8 -0.4 1.7 -1.7 1.7 -1.8 0.8 -3.5 0.9 -3.5 0.1 -8.8-3 -7 1.3 -1.7-0.2 -2.7-1.6 -0.8-1.7 1.8-2.6 1.7-1.4 1.7-0.5 7 1.4zM688.9 414.6l10.5-0.2 15.7 1.4 43.7 6.9 8.8 2.8 0 46.8 -630 0 0-46.8 50.8 4.3 26.2 0 17.5-1.4 29.7-4.4 19.3-1.4 14 0.3 17.5 2 54.2 3.1 50.8 0.5 77-0.4 19.2 1.4 15.8 3.1 10.5 1 68.3 0 31.4-2.9 7-1.2 5.3-1.8 21-9.8 7-2.1z"/>
<path fill="#00ff44" d="M137.6 157.3l630 0 0 15.1 -8.8 0.1 -5.2 0.9 -14 4.4 -5.2 2.8 -7 7.7 -4.8 4 -4.1 1.7 -12.1 3.3 -7 3.9 -7 2.1 -5.3 0.5 -5-1 -2-1 -3.5-3.8 -3.5-2.1 -7-1.6 -3.5 0.3 -1.9 3 -1.7 10.5 0.6 3.5 4.7 7 0.2 5.2 -1.2 3.5 -13.2 8.7 -10.3 3.1 -3.5 1.7 -8.1 9.2 -4.1 6.6 -3.5 1.5 -31.5 1 -8.7-0.7 -5.3-1.3 -12.2-14.1 -1.8-7 -4.5-8.7 -4.5-3.5 -8.3-5.2 -5.4-4.7 -7-3.3 -7-2.4 -3.6-0.5 -15.7 0 -15.7 1.3 -3.6-0.2 -22.7-6.8 -8.7-2 -1.8 0.1 -10.5 3.9 -16 4 -29.5 15.6 -2.2 2 -1 1.7 -1.3 8.7 -3 3.6 -6.5 5.9 -15.8 9.6 -15.7 3.9 -4.2 1.6 -4.3 3.4 -5.1 7 -2.1 0.9 -5.3 0.8 -3.5-1 -1.8-1.7 -3.8-6 -3-1.7 -3.6-1.1 -10.6-1.7 -15.7-0.6 -3.5-0.6 -2.8-1.3 -4.4-5.2 -5-2.8 -3.6-1 -3.4 0.6 -5.3 1.8 -7 5.2 -7 2.8 -3.5 0.8 -12.2 1.1 -6.2 2 -1.4 1.7 -0.6 1.8 -1.1 7 -1.3 1.7 -1.7 0.7 -1.7-0.6 -10.8-8.8 -6.8-3.8 -0.9-1.4 1.3-7 -0.4-1.8 -1.7-2.9 -3.8-4.1 -3-5.2 -3.7-1.4 -8.8-0.5 -4.7-1.7 -1.3-1.7 -1.5-5.3 0-1.7 7.5-7.5 3.5-4.5 2.1-3.7 0.3-3.6 -2.1-7 -0.7-7 2.2 0 3.5 1.1 14 2.2 7 0.2 8.8-1.1 9.3-2.4 4.5-1.7 8.9-7 0.4-1.7 -3.4-1.8 -7.5-2.3 -10.5-1.7 -10.5-0.7 -17.5 0.3 -8.7-0.4 -43.8-4.6zM512.1 172.4l-2.1 2.4 0.8 1.8 3 1.7 3.6 0.4 40.2-0.2 8.8-1.5 3.1-2.2 -0.5-1.8 -0.9-0.5 -5.3-1.2 -45.4 0zM137.6 258.8l1.8-0.2 7 1.1 7 0.5 19.2-0.2 10.5 0.5 6.6 1.8 0.4 1.7 -4.2 7 -5.8 3.6 -7.5 2.8 -8.8 0.3 -26.2-2.4zM766.1 258.8l1.5-0.2 0 16.7 -5.2 0.6 -5.3-1.2 -1.4-1.9 -0.2-1.8 3.3-7.4 3-3zM367 356.8l3.4-0.9 2.4 0.9 1.1 1.8 -1.8 1.8 -3.5 0.3 -2.6-2.1zM685.1 416.3l12.5-0.6 17.5 1.5 42 6.8 3.6 1 6.9 3.4 0 43.9 -630 0 0-43.9 3.5 0.8 14 1.2 29.7 1.5 29.8-0.3 15.8-1.1 29.7-4.6 19.3-1.7 15.7 0.5 17.5 1.9 17.5 0.4 36.7 2.2 52.6 1 77-0.3 17.4 1.3 15.8 3.9 10.5 1 68.3 0.1 10.4-1 8.8-1.5 12.2-1 7-1.3 5.3-1.9 19.9-9.7 6.3-2.1z"/>
<path fill="#00ff00" d="M137.6 157.3l362.8 0 -21.5 5.3 -4.4 1.7 -2 1.7 1.1 2 11.8 6.8 0.8 1.8 0.3 3.4 2.2 1.8 14.7 2.3 19.2 0.7 36.8-0.3 8.7-1.4 12.3-3.9 12.2-2.7 3.3-1.7 1.4-1.8 1.1-8.7 0-7 169.2 0 0 10 -14 0.9 -7 1.7 -7.3 4.9 -6.7 3.7 -6.1 6.8 -5.5 5.3 -2.6 1.7 -12.2 3.5 -8.6 4.4 -5.2 1.6 -5.3 0.4 -4.6-1.2 -2.4-1.7 -3.5-3.7 -3.5-2 -8.7-3.5 -1.8-0.2 -1.8 0.6 -1.7 1.8 -0.6 1.7 -1.5 14 0.4 3.6 4.3 7 -0.2 3.4 -1.4 3.6 -3.8 3.4 -9.5 5.8 -12.9 4.8 -1.9 1.7 -1.9 3.5 -4.5 5.2 -3.1 5.3 -3.6 1.5 -27.7 0.2 -5.6-0.5 -4.6-1.2 -2.1-1.7 -3-5.3 -7.8-7.8 -8.2-13.2 -13.9-8.7 -7.6-6.1 -5.3-2.5 -8.7-2.8 -3.6-0.5 -15.7 0 -15.7 0.8 -3.6-0.4 -13-4.3 -11.4-4.7 -7-1.4 -3.6 0.8 -5 3.5 -4.2 1.8 -18.4 5.2 -21.4 10.3 -8.7 3.7 -1.6 1.8 -0.7 1.8 -1.4 7 -1.5 3.4 -5.3 5.4 -8.8 5.2 -6 5.2 -2.7 1.6 -15.7 4.5 -6.2 2.7 -4.9 3.4 -3.6 5.3 -2.9 0.5 -1.7-0.6 -2.1-5.2 -2-1.7 -2.9-1.2 -12.3-3.1 -23.7-2.7 -7.7-5.5 -7-3.2 -3.6-0.8 -3.4 0.6 -5.3 1.9 -8.7 5.7 -7 2.7 -3.6 0.6 -8.7 0.4 -8.7 1.6 -3 1.3 -4 3.8 -1.8 0.6 -5.2-0.9 -3.9-1.8 -2.3-1.7 -1-1.8 -0.7-7 -3.7-7 -0.2-1.8 2.1-5.2 -0.2-1.8 -2.5-1.7 -10.4-3.9 -1.6-1.4 0.2-3.4 3.2-14 0.5-8.8 1-1.8 3.7-0.7 15.8-0.7 21.8-3.8 5.1-1.8 6.3-3.6 8.8-3.8 2.1-1.3 1.1-1.7 -1.8-1.8 -3.2-1.1 -21-3.9 -14-1.4 -26.2-0.7 -12.7-1.7 -18.9-4 -19.2-1.7zM139.1 264.1l2-0.5 12.3 0.3 17.4-1.2 5.3 0.4 4.2 1 -3.4 7 -4.3 2.3 -5.2 0.4 -3.6-0.3 -3.5-1.5 -1.1-0.9 -2.4-4.7 -1.7-1.3zM760.6 269.3l1.8-1.1 1.7 0.3 0.5 0.8 -0.5 1.7 -1.7 0.5 -1.9-0.5zM685 418.1l12.6-0.7 15.7 1.3 40.3 6.3 7 2.6 2.7 2.7 0.9 3.5 1.2 1.8 2.2 0.5 0 36.2 -630 0 0-36.2 8.8-1.1 45.4-0.1 26.3-1.3 19.3-1.6 22.7-4 19.3-1.4 15.7 0.1 17.5 1.5 17.5 0.2 17.5 1.2 52.5 1.7 9.6 0.7 9.7 1.5 31.4-0.2 19.3-1.5 26.3 0.2 19.2 1.8 12.9 5.2 6.3 3.4 7 4.5 5.3 1.9 14 3.1 8 4.7 6 2.1 31.5 0.2 5.2-0.9 2.9-1.4 0.7-1.1 0.3-0.7 -4.3-5.2 -0.4-1.8 0.3-1.8 1.1-1.7 4.7-3.5 3.9-1.8 6.1-1.7 14.5-2.3 8.8-2.4 21.9-11 5-1.8zM746.6 452.8l-2.2 2 0.8 1.8 3.2 1.7 1.7-0.1 1.8-1.5 0.4-1.9 -1.2-1.8 -2.7-0.7zM417.6 438.6l-7 3 -2.5 2.7 -0.3 1.7 1.1 1.8 1.7 1.2 5.2 2.4 8.8 1.8 3.5-0.2 4.8-1.7 3.1-1.7 3.6-3.6 -0.1-1.7 -1.6-1.7 -4.5-2.4 -7-1.6z"/>
<path fill="#22ff00" d="M191.8 157.3l208.5 0 -0.7 8.7 0.4 5.3 0.5 1.7 2 1.8 14 7 30.9 6.8 5.8 2 0.2 1.7 -2.6 0.6 -3.4 2.2 -3.7 4.2 -3.3 2.3 -15.8 4.8 -14.3 5.2 -10.2 4.8 -8.7 2.5 -1.7 1.4 -0.8 1.7 -1.4 7 -1.4 3.8 -2.2 3.2 -3.5 3.6 -9 5.2 -6.3 5.2 -3.1 1.8 -23.2 7.7 -8.7 0.2 -10.9-2.7 -8.4-2.7 -22.7-3.6 -14.4-5.9 -4.9-1.1 -7 1.9 -12.2 6.4 -7 2.2 -15.8 0.4 -17.4 2.3 -1.8-1.1 -1.1-2.2 -2.6-8.8 3.2-7 -0.3-1.8 -1.9-1.7 -8.3-5.3 -1.8-1.7 -0.7-1.7 -0.4-5.3 0.5-3.5 1.2-3.5 2.1-3.5 4.9-4.3 7.3-2.7 8.1-1.8 19.6-2.7 7-2.1 14-6.2 7.7-4.7 1.9-1.7 -0.5-1.8 -2.1-1.5 -7-2.8 -45.7-11.5 -14.2-5.2zM670.1 167.8l20.5-1.2 24.5 0.6 7 0.9 5.3 1.4 2.8 1.8 1.2 1.7 -0.4 1.8 -14.5 15.8 -3.2 1.7 -8.7 2.4 -8.8 3.9 -5.2 1.5 -3.5-0.1 -3.5-1.3 -12.2-9.6 -5.3-2.6 -5.3-1 -4 1.5 -1.6 1.8 -0.8 3.5 1.5 8.7 -1.7 8.8 0.4 1.8 3.5 7 0 1.7 -1.7 3.5 -2.6 3 -7 2.7 -6.9 4.8 -1.8 0.6 -3.5 0.5 -8.8-2.2 -5.2 0.1 -2.5 1 -1.7 1.7 -0.2 1.8 0.9 2.2 1.7 1.6 5.7 1.4 0.6 1.8 -3.4 3.5 -2.9 4.5 -1.7 0.9 -19.3 0.2 -4.9-0.3 -5.5-1.7 -3-5.3 -7.6-5.4 -8.7-8.4 -4.1-5.5 -15.3-8.7 -8.6-6.5 -5.3-2.8 -12.2-3.5 -31.5 0.3 -5.3-0.6 -10.9-4.5 -6.5-5.6 -1.8-0.9 -5.2-1.6 -4.6-0.6 2.6-1.7 9-0.7 8.7-2.3 10.5-1.5 8.8 0 29.7 1.7 31.5 0 14-1.1 7.7-1.4 11.5-3 21-8.2 31.6-2.3 12.2-2.4zM689.2 419.8l15.4 0.1 12.2 1.4 33.3 5 6.3 2.3 1.3 1.7 -0.1 1.7 -0.9 1.8 -12.9 12.2 -7.7 4.8 -1.2 2.3 0 1.7 1.9 3.5 4.6 3.4 5.2 1.6 3.5 0 2.6-1.5 2.1-3.5 0.8-3.5 -0.3-5.2 0.8-1.8 6.1-5.2 5.4-1.8 0 31.5 -630 0 0-31.5 12.2-2.1 47.3-1.2 28-1.9 26.2-1 43.8-5.6 17.5 0.7 17.5 0 17.5 1.2 40.2 1.4 13.3 1.5 3.3 1.8 0.3 1.7 -2.8 7 -0.1 1.8 1.9 3.5 3.4 2.8 5.3 2.7 7 2.2 7 0.8 8.7-1.2 14-4.8 1.7-1.5 1.8-3.1 3.2-8.4 1.3-1.8 3.3-1.7 8-1.3 10.4-0.5 10.6 0.1 10.4 0.9 10.6 1.4 3.8 1.1 3 1.7 14.2 11.1 10.4 6.7 3.6 1.3 12.2 1.3 8.8 3.7 8.7 1.5 36.7-0.2 7-1.2 3.3-1.4 1.4-1.8 1.1-3.4 -0.2-1.8 -3-5.2 -0.2-1.8 0.5-1.8 1.5-1.7 2.6-1.7 7-2.9 8.8-1.6 8.7-2.8 7.1-2.8 5.2-3.4 8.8-4.3 9.5-3.2z"/>
<path fill="#55ff00" d="M289.4 159.1l3.7-1.7 54.9 0 3.6 3.5 3 5.3 1.5 1.7 2.8 1.8 7.9 2.6 9.4 4.4 8.2 3 40.2 8 9.8 3 4 1.7 1.3 1.7 -0.4 5.3 -1.7 1.7 -4.3 1.8 -15.7 4.9 -19.2 5.2 -7 0.6 -3.6 2.7 -1.7 2.2 -1.3 10.6 -3.1 5.3 -3 3.5 -19.8 12.2 -9.4 3.6 -10.7 3 -10.4-0.3 -7-2 -10.6-4.4 -6.2-1.6 -7.8-1.5 -10.4-0.6 -14-4.2 -3.6-0.5 -7 1.9 -12.2 5.8 -7 1.3 -3.5-0.3 -5.3-2 -7-8.7 -1.7-1.5 -8.7-1.7 -10.6-5.7 -4.4-3.3 -0.9-1.7 -0.5-3.6 0.3-3.4 0.7-1.8 3.1-4.1 5.3-3.6 6.5-2.8 7.5-2.3 19.2-1.6 12.2-3.5 5.3-2.1 8.5-6.2 13.2-7 1.3-1.8 0.1-5.2 -1-3.6 -2.9-5.2 -0.4-1.8 1.1-1.7 2.4-1.7zM688.6 169.6l16-0.1 7 0.6 7 1.8 2.4 1.1 1.5 1.8 -0.3 1.8 -3.9 5.2 -5 5.7 -3.5 3.1 -12.2 4.6 -8.8 1.7 -3.4-1.3 -5.3-3.3 -5.3-5.5 -6.5-5 -3.8-5.2 0.3-1.8 3.4-1.8 8.1-1.7zM608 180.1l3.8-0.8 5.3-0.1 10.5 1.2 7 2.1 12.2 5.6 2 2.6 3.8 8.7 0 3.5 -3.9 7 0.8 3.5 2.7 3.5 0.6 1.8 -1.2 1.7 -6.5 2.3 -8.7 6.3 -14 0.1 -5.3 1.4 -2.8 2.2 -3.1 3.4 -3.8 7 -1.9 1.8 -2.4 1.2 -3.5-0.4 -5.2-2.5 -5.3-1.3 -5.3-2.1 -10.8-7.1 -7-7 -13.7-7 -10.2-7 -5.5-3 -5.2-1.9 -8.8-1.8 -26.2 0 -8.8-0.6 -4.3-1.5 -3-1.8 -1.7-1.7 -1.9-5.3 0.6-1.7 3.3-1.8 6.5-1.7 7.5-0.7 31.5 2.4 31.5 0.2 17.5-0.7 17.5-3.7zM685.2 425.1l5.4-1.3 17.5 0.1 7 0.6 10.5 1.9 17.5 1.6 5.2 1.1 2 1.3 -0.2 1.7 -2.7 1.8 -11.1 3.5 -7.2 4.9 -1.6 2.1 -1.4 3.5 -0.6 3.5 0.2 5.3 0.9 5.2 2.5 2.1 7 1.9 12.3 1.3 5.2-1.2 2.9-2.3 0.6-1.4 0.7-7.4 1.3-3.5 5-5 3.5-1.8 0 27.8 -630 0 0-27.8 1.8-0.5 19.2-2.7 66.5-3.6 42 1.6 10.1-2 15.3-5.3 9.6-0.9 28-0.1 56 2.7 7 1.3 1.8 0.6 2.3 1.7 0.4 1.7 0 8.8 0.8 2.4 1.7 2.8 3.5 3.3 5.2 3.3 5.3 1.9 5.3 1 14 0.1 15.7-0.9 3.5-0.7 2-2.7 0.9-8.7 1.8-5.3 1.9-3.5 2-1.8 3.6-1.3 5.3-1 15.7-0.7 15.8 1.7 8.8 2.9 12 10.7 2.7 3.5 2.7 5.2 1.8 1.7 3.7 1.9 5.1 1.5 17.4 0.5 19.3 2.3 33.3 0 8.7-0.5 10.5-1.6 5-2.2 0.8-1.8 -1.2-5.2 -4.1-7 -0.1-1.8 0.8-1.8 2.3-1.7 3.5-1.5 7-1.7 27.7-9.1z"/>
<path fill="#88ff00" d="M684.1 173.1l6.5-1 15.8 0.1 4.6 0.9 2.4 1.1 1.1 0.7 0.2 1.8 -6.6 7.6 -5.3 3.3 -3.3 3.1 -3.7 1.4 -5.2 0.4 -3.5-1.8 -1.7-2.5 -5.3-4 -1.6-2.3 -0.6-5.2 1.7-1.8zM306.6 178.3l9.5-1.1 29.7 0.4 10.6 1.2 20.6 4.8 23.1 2.6 21 3.6 7 2.3 3.3 1.9 3.2 3.6 0.4 1.7 -1.5 1.7 -17.7 5.9 -8.7 1.7 -15.7 0.6 -3.6 1 -2 1.4 -1.4 2.3 -1.6 4.7 -0.1 8.7 -1.7 3.5 -3.8 5.2 -3.4 2.7 -17.4 9.5 -9.8 3.6 -7.8 2.2 -7 0 -3.4-0.5 -8.8-3 -7.7-3.9 -6.4-1.8 -10.4-2 -10.5 0 -14-3.5 -3.5 0.2 -3.5 0.9 -12.2 5.6 -8.8 0.8 -3.5-1 -3.5-2.1 -6.8-7.7 -2-1.5 -12.4-3.7 -6.4-3.5 -1.2-1.7 -0.6-3.6 0.5-3.4 2.7-2.9 5.2-3 10.5-3.9 21-1.4 8.7-1.5 7-2.1 8.8-4.6 1.8-1.6 4-5.3 2.6-1.7 19.6-9.6zM605.8 185.3l6-1.6 7 0.2 8.8 2.6 10.9 4.1 4 1.7 1.5 1.7 1.7 5.3 0 1.7 -5.5 7 -0.8 3.6 -0.2 5.2 -0.7 1.8 -1.8 1.7 -3.9 1.4 -14 2.4 -3.4 2.3 -8.8 7.7 -5.2 2.9 -5.3 1.6 -5.3-0.3 -7-3 -7.9-4.5 -8.1-7 -11.1-5.2 -13.1-8.3 -7-3.4 -14-3.1 -26.2 0 -7-0.8 -4.9-2 -1.4-1.7 -0.3-1.7 0.6-3.6 1.7-1.7 4.3-1.4 5.2-0.7 29.8 2.8 50.7-0.1 16.8-2.3zM297.1 433.8l6.7-0.9 26.3-0.6 42 1.8 15.7 1.6 3.5 1.6 1.1 1.8 0.3 6.9 1 5.3 2.4 5.3 4 4.9 3.5 2.9 3.5 1.9 5.3 1.5 7 0.7 31.4 0 9.7-1.5 2.7-1.7 0.3-1.7 -3.3-5.3 -2-7 1-5.3 2.2-3.5 1.7-1.2 3.5-1.2 8.8-1.6 10.4-0.4 7 0.6 8.8 1.7 4.9 2.2 2.6 1.7 6.9 7 2.5 3.5 0.1 1.8 -2.3 7 0.7 1.7 3.8 2.6 5.3 1.2 12.3 1.1 40.2 1 40.2-0.4 12.3-1.2 13.7-2.6 3.6-1.7 0.7-1.7 -1.4-1.8 -6.1-4.7 -5.4-5.8 -0.8-1.7 0-1.8 1.4-1.8 8.3-3.2 19.3-5.8 24.4-2.5 10.6 0.2 5.2 0.9 3.6 1.7 0.9 1.7 0.1 8.8 -0.5 1.8 -1.7 1.7 -5.8 3.5 -7.1 6.2 -1.1 2.6 1.3 1.7 5.1 1.7 15.7 0.2 19.3 2.6 14 0.6 6.9-0.8 3.5-1.2 1.9-1.4 1.1-1.7 0-1.7 -1.6-5.3 0-3.5 2.1-3.4 5.3-3.6 0 24.5 -630 0 0-24.5 1.8-0.5 33.2-4.7 50.8-3.2 14 1.3 24.4 5 5.3 0 10.5-3.4zM256.6 449.5l-5.2 1.8 -2.7 1.7 -1.5 1.8 -0.2 1.8 0.9 1.7 1.7 1.3 3.5 0.9 8.7-0.3 8.3-1.9 2.5-1.7 1.1-1.8 -0.1-1.8 -1-1.7 -3.8-2.9 -3.4-0.6 -3.6 0.1z"/>
<path fill="#bbff00" d="M307.7 183.6l6.7-1.5 33.2 0 21 3.1 28 3.1 23.1 4 6.7 2.9 2.9 2.4 1.1 1.7 -1.2 1.7 -13.4 4.7 -8.7 1.4 -17.5 0.6 -5.2 1.8 -1.8 2.1 -1.4 5.2 -1.3 10.5 -3.1 5.3 -3 3.4 -5.8 3.6 -13.4 6.4 -15.8 5.2 -7 0.1 -3.4-0.6 -7-2.5 -8.8-4.5 -10.5-2.5 -7-2.6 -10.5 0.6 -10.5-2.5 -5.3-0.1 -3.4 0.8 -5.3 1.9 -8.7 4.2 -3.6 0.3 -5.2-0.6 -5.2-3.1 -7.8-7.5 -2.8-1.6 -8.7-3.2 -2.5-2.2 -0.4-3.6 0.3-1.7 1.2-1.7 4.9-3 5.2-1.9 12.3-1.5 24.5-0.9 8.8-1.1 3.4-1 1.8-1.2 1.1-1.7 5.9-12.3 1.6-1.7 8.9-4.4zM607.9 188.8l3.9-0.6 7 1.5 6.2 2.6 0.6 1.7 -4 8.8 -6 7 -1.8 5.2 -2.9 5.3 -2.4 7 -1.2 1.7 -4.8 3.6 -8.1 2.4 -3.6-0.2 -7-3 -5.2-3.2 -8.7-6.6 -10.8-5.2 -15.5-8.8 -5.2-2.3 -7-1.7 -8.8-1.3 -26.2-0.2 -7-1.5 -1.7-1.7 0-1.7 1-1.8 1.8-1.8 5.9-1.7 26.2 3.2 52.5-0.2 19.3-2zM320.4 433.8l9.7-0.2 36.7 1.5 8.8 0.6 9.5 1.6 2.7 1.9 1.1 13.8 1.2 5.3 2 5.3 -0.4 1.7 -2.1 1.7 -3.5 1.1 -12.3 1.6 -10.4 0.5 -33.3 0 -14-1 -18-2.2 -5.8-1.7 -4.7-3.5 -1.9-3.5 -3.2-10.5 0.2-1.8 1.9-1.7 7-3.3 5.2-4 3.6-1.7 5.2-0.8zM474.8 440.8l5.8-0.6 7 0.1 7 1 7 1.7 3.5 2.1 3 2.7 4.1 5.2 0.8 1.8 -0.3 1.8 -4.1 3.2 -12.2 6.2 -8.8 0.6 -8.8-0.6 -8.7-4.8 -3.5-2.5 -3.5-3.7 -2-3.7 0-3.5 0.6-1.8 1.5-1.7 3.7-1.7zM672 440.8l9.9 0.2 5.2 1.1 3.3 2.2 1 1.7 0 3.6 -3.3 3.4 -4.5 2.4 -5.2 1.2 -7 0.1 -17.6-0.3 -8.7-3.6 -2.1-1.5 -0.7-1.7 0.8-1.8 2.3-1.8 8.4-3.1 10.6-2zM195.3 442.6l19.3-1.6 12.2 0 8.2 1.6 5.3 1.7 2.6 1.7 -0.2 1.8 -3.6 3.4 -7 4.6 -3.5 6.9 -1.8 2.3 -3.4 1.8 -5.3 1 -12.3 1 -35-0.1 -15.7-2.1 -14-2.8 -3.5-1.6 0-11.1 33.2-6.1zM767.2 451.3l0.4-0.2 0 11.1 -3.5-3.3 -1.1-2.3 0.2-1.8 0.9-1.3z"/>
<path fill="#eeff00" d="M326.4 185.3l23-0.3 45.4 5.6 22.8 3.8 5.2 2.3 3 2.6 -0.7 1.7 -3.6 1.8 -6.1 1.8 -8.3 1.2 -17.5 0.5 -6 1.7 -1.9 1.8 -0.8 1.8 -3.8 15.7 -5.2 7 -2.1 1.7 -4.7 2.7 -20.2 7.9 -6.1 1.7 -7 0.1 -3.4-0.6 -7-2.5 -7-3.8 -8.8-2 -4.3-1.7 -2-1.8 -0.9-1.7 0.1-8.7 -1-3.6 -2.4-2.6 -1.7-0.5 -3.6 0.9 -3.7 2.2 -1.1 1.8 -0.7 3.5 -2.4 1.7 -14.8 4.5 -7 3 -7 3.7 -3.5 0.8 -5.2-0.8 -3.6-1.7 -5.3-5.9 -7.6-5.3 -1.5-1.7 0.4-3.6 1.8-2.2 3.5-1.9 7-1.7 10.5-0.3 28 1.4 7-1.3 1.8-1 1.7-1.9 0.9-3.3 0.1-5.2 0.7-3.6 4.2-7 1.8-1.7 6.3-3 8.7-2.7zM608.3 194.1l1.8-0.1 1.7 0.9 1.5 2.8 0.3 3.4 -0.8 1.8 -5.6 7 -0.8 1.8 -1.1 5.2 -0.6 8.8 -0.6 1.7 -2.7 2.4 -7 1.8 -3.6-0.3 -3.4-1.5 -8.2-5.9 -7.6-4.4 -25.9-13.1 -5.6-2.1 -15.7-3 -25.5-0.2 -4.7-1.7 0.7-1.7 3.2-1.2 24.5 2.2 26.2-1.4 35-0.1 17.6-1.4zM314.2 435.6l15.9-0.5 24.5 0.7 20.1 1.5 4.8 1.7 2.6 3.6 1.1 3.4 -0.2 8.8 -0.6 1.8 -1.6 1.9 -3.4 2.1 -7.8 3 -6.2 0.9 -33.3 0.1 -19.3-3.6 -7-2 -3.4-2.2 -5-5.5 -1.8-3.5 0.2-1.8 5.6-7 2.4-1.7zM210.4 442.6l7.7-0.5 8.8 0.5 6.3 1.7 2.7 1.8 -0.1 1.7 -5.5 4 -13.9 7 -8.8 2.3 -7 0.8 -24.5 0.2 -12.3-0.9 -21-4.6 -0.8-1.8 19.2-5.2 9-1.8 26.9-3.9zM476.8 442.6l5.6-0.5 7 0.3 10.4 2.7 2 0.9 3.3 3.6 1.2 3.4 -0.5 1.8 -2.4 1.7 -5.3 1.7 -8.7 1.8 -8.8-0.6 -8.8-2.4 -3.4-1.9 -2.5-2.1 -1.3-1.7 -0.5-1.7 0.3-1.8 1.3-1.7 2.7-1.4zM655.3 446.1l9.1-0.5 14 0.1 3.4 1.1 1.4 1.1 0.7 1.8 -1.9 1.7 -3.6 0.7 -21 0 -4.7-0.7 -1.7-1.7 0.8-1.8z"/>
<path fill="#ffdd00" d="M318.9 188.8l16.5-1.5 12.2-0.2 8.8 0.6 21 2.4 33.2 5.1 7 1.8 3.7 2.3 -0.2 1.7 -3.8 1.8 -3.2 0.7 -7 1.1 -17.5 0.4 -3.5 0.6 -3.5 1.4 -2.4 2.8 -6.4 17.4 -6.4 7.1 -2.3 1.7 -8.7 3.3 -7.1 2 -8.7 3.5 -3.5 0.7 -5.3 0 -5.2-1.3 -12.2-5.6 -8.8-2.4 -2-1.9 0.1-3.5 1.9-4.4 3.5-5.5 3.4-2.3 0.7-1.8 -7.6-2.2 -3.5-2.8 -3.4-5.5 -1.1-3.5 0.1-1.8 2.7-4.7 3.4-3.3 7-2.7zM589.4 199.3l5.3 0 4.9 1.1 1.8 0.6 0.7 1.8 -2.5 3.6 -7.3 5.2 -3.2 3.6 -1.7 0.9 -7 0.5 -5.3-0.6 -8.7-3.2 -10.6-6.1 -11-3.9 -3-1.8 7-1.4 33.3 0.2zM240.9 222.1l3.5-1.2 3.4-0.3 12.3 0.5 3.9 1 3.4 1.8 1.8 1.8 0.1 1.7 -2 1.7 -8.9 4.8 -5.3 3.6 -1.7 0.6 -3.5-0.2 -3.9-1.8 -6.1-8.7 -0.1-1.7 1-1.8zM592.2 222.1l0.4-0.4 1.8 0.5 1.8 1.7 0.3 1.8 -2.1 0.8 -2.7-0.8 -0.3-1.8zM314.9 437.3l16.9-0.5 24.6 0.4 7 0.8 5.7 1 2.8 1.8 2.5 3.5 0.4 1.7 -1 2.3 -4.1 4.8 -2.9 2.3 -3.4 1.6 -15.8 3 -17.5-0.1 -21-5.2 -5.3-2.3 -2.9-2.8 -1.1-3.6 0.6-1.7 2.7-3.5 3-1.8zM207.4 444.3l9-1 8.7 0.5 2.1 0.5 3.2 1.7 -0.1 1.8 -3.5 2.6 -3.4 1.5 -24.6 5.9 -14 0.3 -15.7-0.6 -7-0.9 -2.6-1.8 2.2-1.7 3.9-1.1 21-3.4 10.5-2.8zM478.6 444.3l9 0 5.2 1 5.5 2.5 1.6 1.8 0.1 1.7 -1.6 1.8 -2 0.9 -8.8 2.2 -14-2.4 -4.4-2.5 -0.7-1.7 0.8-1.8 2.8-1.7z"/>
<path fill="#ffaa00" d="M326.5 190.6l7.1-0.9 14-0.6 10.5 0.7 19.3 2.4 12.2 2.8 21 2.4 5.5 1.9 0.2 1.7 -7.5 2.1 -19.2 0.6 -7 1.7 -2.8 2.6 -3.3 7 -6.7 10.6 -6.4 6.6 -7 3.8 -8.8 1.9 -8.8 3.6 -7 0.7 -3.4-0.7 -8.1-3.7 -4.8-3.5 -0.5-1.7 1.3-3.6 3-3.4 10.4-7 0.7-1.8 -1-1.8 -4.1-1.7 -8.3-1.7 -6.2-2.4 -5.1-4.6 -1-1.8 -0.2-1.8 0.9-1.7 1.8-1.7 5.4-3.4 5.8-1.9zM252 225.6l4.6 0 1.8 0.4 1.8 1.3 -8.8 4.8 -1.9-1.3 -0.9-1.8 0.1-1.7zM313.4 440.8l9.7-1.5 28 0.3 5.4 1.2 4.2 1.8 3.3 1.7 1 1.7 -1.4 1.8 -2.9 1.8 -11.3 5.3 -5.3 0.6 -14-0.2 -17.5-4.2 -6.5-3.3 -1-1.8 1.2-1.7zM208.5 446.1l6.1-1.2 5.2 0 5.4 1.1 -0.1 1.8 -3.5 1.8 -7 1.3 -12.8-1.3 1.8-1.8zM476.3 447.8l4.3-1.2 5.2 0 5.1 1.2 1.9 1.8 -0.9 1.7 -2.5 1.1 -5.3 0.3 -7.5-1.4 -1.6-1.7z"/>
<path fill="#ff7700" d="M333.8 192.3l15.6-1.2 10.4 0.8 15.8 2.1 14 3.9 16.7 1.4 1.9 1.7 -18.6 0.9 -7 2 -3.5 2.8 -3.5 6.3 -1.8 1.9 -10.8 7.1 -4.9 5.4 -19 10.4 -7.3 1.2 -3.4-0.7 -3.5-2.3 -1-1.7 0.1-1.7 1.5-3.6 1.4-1.7 10.8-8.7 0.3-1.8 -2.9-3.5 -3.3-2 -12.2-3.4 -6.3-5.1 -0.5-1.8 3.3-2.3 11.5-4.7zM318.1 444.3l5-0.7 22.7 0 4.1 0.7 2 1.7 -1.2 1.8 -4.9 1.5 -15.7 0 -12-1.5 -3.2-1.8z"/>
<path fill="#ff4400" d="M344.2 194l5.2-0.6 7 0 15.7 2 5.3 1.3 5.2 2.2 0.8 0.4 0.5 1.7 -4.8 3.5 -5.3 6.9 -3.4 2 -5.3 2 -3.5 0.6 -8.8-0.4 -5.2-1.2 -5.2-2.4 -5.9-4 -5.4-5.2 -0.5-1.8 1.9-1.7 6-3.5zM337.6 223.8l3-0.8 3.5 1 1.8 1.6 0.4 1.7 -0.8 1.7 -3.1 2.8 -5.3 3.1 -3.5 1.1 -1.8 0 -1.7-0.7 -0.9-1 -0.1-1.7 0.7-1.8 5.2-5.2z"/>
<path fill="#ff0000" d="M350.1 195.8l8-0.5 8.7 0.9 8.8 2.2 2 0.9 1.4 1.8 -5.2 6.5 -3.4 2.1 -8.8 3 -5.2 0 -5.3-1.5 -5.3-2.6 -3.4-2.7 -2.6-3.1 -0.2-1.8 1.2-1.7 3.3-1.9z"/>
<path fill="#ff3333" d="M353.7 197.6l7.9-0.4 7 1.2 3.2 0.9 2.7 1.7 -0.2 1.8 -3.9 3.1 -5.3 2.5 -5.2 1.3 -3.5-0.4 -6.2-3 -4.5-3.5 -0.3-1.8 2.2-1.7z"/>
<path fill="#ff6666" d="M355.8 199.3l4-0.4 5.3 0.5 3.8 1.6 -0.1 1.8 -5.4 2.7 -5.3 0.4 -3.3-1.3 -2.3-1.8 -0.2-1.8z"/>
<path d="M197.4 260 194.1 260.2 191.8 259.7 188.3 260.7 181.3 259.5 177.8 257.8 175.2 257.2 172.8 258.4 172.4 260.7 170.8 261.8 168.2 260.9 164.7 259.5 164.4 258.3 160.3 257.2 156.8 256.7 155.3 254.8 156.5 252.7 156.3 250.4 156.8 250.1 154.8 249.5 149.8 250.1 142.8 250.4 137.6 252.2 132.5 253.2 128.3 252.2 127.3 252.2 125.7 255.1 124.3 256 122.7 256.5 120.4 259.7 120.6 261.4 120.4 263 118.3 264.4 114.8 266.3 112.2 268.9 109.6 273.3 107.8 278.1 109.1 281.6 108.7 286.8 107 289.1 108.2 291.2 108.4 293.1 111.3 295.6 113.6 298.2 114.5 299.9 118.3 303.2 121.8 306.1 124.5 307.1 130.6 305.7 134.1 306.4 135.8 305.7 140.2 304 145.5 303.8 146.9 306.1 148.1 307.3 149.8 307.1 152.5 306.9 154.2 307.8 154.8 309.6 154.2 313.1 153.3 316 154.2 319.2 158.2 322.7 159.1 325.3 160.7 330.6 161.6 335.8 159.5 339.3 158.2 345.4 160.3 349.8 163 355.1 163.8 361.2 166.5 364.9 167.3 367.3 169.1 371.7 169.8 374.6 172.6 375.7 176.1 374.6 182.4 374.3 184.8 373.4 188.3 370.8 191.8 367.1 195 363.8 195.3 360 199.7 356.8 199.4 352.4 198.7 349.5 202.3 346 206.7 343.7 208.6 339.3 208.5 333.2 206.7 330.6 206.4 326.7 205.8 324.4 207.1 321.8 209.3 318.3 212 315.7 216.9 311.3 220.7 307.8 223.3 304.3 226.5 297.3 227.2 294.1 219.8 295.2 215.5 296.6 213.4 294.7 213.2 292.6 209.3 289.4 206.7 287.5 205 283.3 202.9 280.5 202.3 277.2 200.1 274.6 198.8 271.9 197.1 268.4 195.9 265.8 194.7 262.5 195.3 264.1 196.4 265.3 197.4 266.3 198 265.4 198.7 263.2 198.5 265.4 199.7 266.7 201.8 269.3 202.9 271.1 205 273.3 206.2 277.2 208.8 280.2 209.7 282.1 211.6 284.4 212.3 286.3 212.5 288.9 213.2 291.5 213.7 292.6 216.3 292.4 219.8 291.4 222.8 290.3 225.1 288.6 228.9 286.8 232.1 285.1 234.2 284.2 236.5 283.3 238.6 281.7 238.8 280.7 240.5 278.9 242.2 275.4 240.1 273.5 237.3 272.8 236.3 271.1 236.3 268.8 235.8 269.1 234.4 270.5 232.8 271.9 229.5 272.4 227.7 271.9 227.9 270.7 227.2 269.1 226.5 270.2 225.4 269.7 225.1 268.1 222.8 265.8 221.6 263.5 222.5 262.3 223.3 261.6 225.4 262.3 226.5 264.1 227.7 266.2 230.3 267.6 233 268.2 236.1 267.4 237.3 267.9 237.9 269.7 240.5 270.2 243.5 270.5 246.1 270.9 250.5 270.7 254 270.4 254.8 271.4 255.7 272.8 257.5 273.9 259.2 274.6 260.1 274.9 258.4 275.8 260.4 278.1 261.9 278.4 263.8 277.5 264.5 275.9 264.6 277.2 264.8 278.9 265 281.6 265.9 285.1 266.8 287.7 267.6 289.4 268.5 292.1 269.7 294.1 270.9 297.3 271.5 299.1 273.2 300.6 274.4 299.2 275.9 298.5 277.2 296.8 277.4 294.7 278.1 291.9 277.8 290.3 278.1 287.7 279.7 286.8 281.6 285.4 284.6 282.8 286.7 280.7 288.8 279.8 289.5 278.9 289.9 277.4 291.6 276.8 293.4 276.7 296 275.8 298.2 275.6 298.6 276.7 300 278.9 301.6 280.7 302.8 283.3 302.6 286.8 304.2 287.1 305.6 285.9 307 285.1 308.4 285.9 308.6 287.7 309.4 290.3 310.1 293.8 310 297.3 309.6 300.8 310 300.5 311.7 302 312.9 303.4 313.1 304.6 313.5 306.9 314.9 309.7 316.1 310.8 318.7 312.5 319.9 312.4 318.7 309.9 318.6 306.9 317 304.3 315.2 302.9 313.5 302.2 312.6 299.9 311.2 298.5 311.7 295.6 312.6 292.9 313.5 291.2 314.4 292.6 317 293.8 318.7 296.2 321 297.3 321.4 299.6 324 298.2 324.5 296.8 326.6 295.9 328.9 293.8 328.7 291.2 327.1 286.8 325.7 285.9 324 284.2 322.6 281.6 324.5 278.4 327.1 277 329.6 277.4 330.4 279.3 330.8 277.7 332.7 277.2 336.2 275.9 337.4 275.8 341.5 274.6 343.2 273.3 345 271.6 346.9 270.2 348.5 267.6 350.4 265.3 351.1 262.5 348.5 261.8 350.8 260.7 350.9 259.3 349.2 257.8 347.6 255.3 346.4 253.6 348.1 251.8 351.4 250.2 352 249.4 348.8 248.7 345.9 249.5 345.7 248.3 343.8 246.2 346.7 245.2 350.9 243.2 350.8 243.9 350.2 246.9 351.1 246.2 355.1 244.8 356.7 245.7 356.4 248.3 359.1 249.2 359 250.4 359 252.7 358.6 254.4 360.7 254.1 363.4 253.4 364.1 252.7 364.1 250.1 362.5 247.8 360.7 246.2 360.7 245.2 364.2 243.6 364.6 242.2 366.3 240.4 368.6 239.2 371.2 239.6 374.7 237.8 377.4 235.5 380 233.4 382.6 230.8 383.5 229.1 383.5 226.4 385.1 223.4 384.9 221.5 382.6 221.2 378.2 220.3 374.4 219.1 377.4 218.6 380 215.1 383.5 213.3 387.9 211 392.2 210.9 396.6 211 401.5 210.7 401.9 211.2 407.1 211 408.9 210.2 412.4 207 417.6 207.2 421.1 206.7 424.6 205.4 423.7 207.2 420.2 208.9 415.9 211.6 412.4 213.5 410.1 215.1 409.9 218.6 410.2 222.1 411.8 225.6 414.1 223.8 415.3 222.1 417.6 221.2 421.1 218.6 423.2 216.4 421.1 213.7 423.4 212.4 425.5 210 429 209.8 435.6 209.8 438.6 208.1 443 206.7 447.4 205.4 451.7 204.9 448.2 201.6 450 201.6 452.6 201.1 454.4 198.8 455.2 200.2 460.5 201.4 465.7 201.9 470.1 199.1 464.9 197.6 457.9 195.3 452.6 194.2 445.6 192.8 436.5 192.1 436 194.1 430.7 192.7 424.6 192.8 418.5 193 417.6 191.9 412.4 190.6 404.5 190.6 400.1 189.3 393.1 188.3 384.4 187.4 382.6 187.9 377.4 189.7 370.4 189.7 366.9 190.6 364.2 189.7 359.9 187.9 359 186.2 352.9 186.5 344.1 186.5 334.5 185.7 330.1 184.8 336.2 182.5 333.6 180.9 324.9 180.4 320.1 178.8 309.1 181.3 298.6 182 289.9 183.6 288.1 185.5 278.5 186 278.5 187.4 273.2 188.3 268.9 188.3 266.2 190.6 267.1 194.1 266.2 196.7 261 198.4 263.6 197.6 265.4 194.9 264.1 192.3 265.4 189.7 264.5 187.4 258.4 187.2 255.4 189.7 254.8 191.4 254.8 194.4 250.5 193.7 243.5 192.8 239.1 194.4 233 195.3 230.3 194.9 221.6 196.3 219 197.6 218.1 195.4 213.4 194.6 214.9 196.7 214.6 198.8 211.1 198.4 207.6 199.7 208.1 201.8 204.1 202.1 202.3 203 198.5 201.9 198.5 200.2 194.5 197.4 198 198.3 202.3 198.8 207.6 198.9 209.7 197.9 208.5 196.2 200.6 194.1 195.3 193.5 190.1 192.8 191.8 191.8 186.6 190.6 182.8 190.4 179.6 190.6 175.2 191.9 170 192.7 165.6 194.1 163 195.8 160.3 197.9 158.6 200.2 156 202.3 152.8 203.7 149.8 204.6 146.3 206.3 146.3 209.1 147.4 211.9 149.8 213.3 151.6 213.1 154.2 211.9 156.2 210 157.2 211.7 158.6 214.5 159.8 216.6 160.2 217.9 162.6 217.7 165.2 216.6 166.3 215.8 166.7 213.7 169.1 211.6 170.5 210.2 167.7 208.6 168.2 206.3 170.8 204.2 174.7 201.9 176.4 200 179.9 199.7 182 200.7 180.5 201.4 175.2 204.2 174.9 206.3 175.2 208.4 177.7 210.2 181.3 209.4 187.5 208.9 190.4 210 186.6 210.5 181.3 210.7 178.7 211.2 180.1 212.8 179.6 215.1 176.1 214 174.3 215.4 174.3 218.2 172.2 219.6 170 219.1 165.6 219.8 162.1 220.3 159.5 219.6 156.8 220.3 155.1 219.4 155.1 218.6 156.5 216.8 155.6 215.9 156.2 213.8 154.8 214 151.8 215.1 151.9 217.7 152.8 219.4 152.5 220.7 149.8 221 148.1 221.4 145.8 222.1 144.6 223.8 142.8 225 140.4 225.7 140.2 227.1 137.8 228.2 135.8 228.4 134.4 227.8 134.8 229.6 132.3 229.4 129.4 230.1 130.1 231.2 133.8 232.2 135.5 234.3 135.5 236.6 134.4 238.9 131.5 238.7 128 238.7 123.6 238.3 121.3 239.6 122.2 241.3 122.2 243.9 121 247.1 122.2 247.4 122 250.1 124.6 249.7 126.6 250.8 127.8 251.8 128.2 251.6 129.9 250.6 133.8 250.6 136.4 249 136.7 247.8 137.9 247.1 137.1 245.7 139 243.4 141.4 242.4 143.2 241.5 143 240.6 143.2 239.6 144.6 238.7 146.3 238.9 148.1 239.4 150.4 238.3 151.6 238 153.2 237.1 154.8 237.6 155.6 238.7 156 239.7 156.8 240.6 158.9 241.7 160.3 242.7 162.4 243.4 163.5 243.8 164.9 244.8 165.9 246.6 165.1 248.3 166.5 247.8 167.7 246.6 166.7 245.2 167.2 244.1 169.6 245.2 170 244.6 169.1 243.8 166.1 242.5 165.6 241.5 162.6 240.8 161.4 238.7 159.3 237.3 159.1 235.5 161.6 234.8 161.4 235.7 161.8 236.2 163 235.7 164.2 237.4 166.3 238.7 169.4 240.2 170.8 240.9 171.7 242.2 171.5 243.9 172.6 245.2 173.8 245.7 174.3 246.9 175.2 247.8 174.7 248.7 175.6 250.4 177 250.9 177.8 250.9 178.2 249.5 177.8 248.5 179.6 248.8 179.6 248.3 178.2 246.6 177.3 245.7 177.7 243.9 178.7 244.3 179.6 244.8 180.5 243.2 183.1 243.4 184.3 243.9 183.4 244.8 184.5 245.7 184 247.2 185.2 247.6 185.5 250.1 188.3 251.3 191.2 250.4 194.5 251.6 197.1 251.3 198.8 250.6 200.9 250.8 200.2 252.7 199.7 255.5 198.7 257.9 197.4 260M827.5 260 824.1 260.2 821.9 259.7 818.4 260.7 811.4 259.5 807.9 257.8 805.2 257.2 802.8 258.4 802.4 260.7 800.9 261.8 798.2 260.9 794.7 259.5 794.4 258.3 790.4 257.2 786.9 256.7 785.3 254.8 786.5 252.7 786.3 250.4 786.9 250.1 784.8 249.5 779.9 250.1 772.9 250.4 767.6 252.2 762.5 253.2 758.3 252.2 757.3 252.2 755.7 255.1 754.3 256 752.7 256.5 750.5 259.7 750.6 261.4 750.5 263 748.4 264.4 744.9 266.3 742.2 268.9 739.6 273.3 737.9 278.1 739.1 281.6 738.7 286.8 737 289.1 738.2 291.2 738.4 293.1 741.4 295.6 743.6 298.2 744.5 299.9 748.4 303.2 751.9 306.1 754.5 307.1 760.6 305.7 764.1 306.4 765.9 305.7 770.2 304 775.5 303.8 776.9 306.1 778.1 307.3 779.9 307.1 782.5 306.9 784.2 307.8 784.8 309.6 784.2 313.1 783.4 316 784.2 319.2 788.2 322.7 789.1 325.3 790.7 330.6 791.6 335.8 789.5 339.3 788.2 345.4 790.4 349.8 793 355.1 793.9 361.2 796.5 364.9 797.4 367.3 799.1 371.7 799.8 374.6 802.6 375.7 806.1 374.6 812.4 374.3 814.9 373.4 818.4 370.8 821.9 367.1 825 363.8 825.4 360 829.7 356.8 829.4 352.4 828.7 349.5 832.4 346 836.7 343.7 838.7 339.3 838.5 333.2 836.7 330.6 836.4 326.7 835.9 324.4 837.1 321.8 839.4 318.3 842 315.7 846.9 311.3 850.7 307.8 853.4 304.3 856.5 297.3 857.2 294.1 849.9 295.2 845.5 296.6 843.4 294.7 843.2 292.6 839.4 289.4 836.7 287.5 835 283.3 832.9 280.5 832.4 277.2 830.1 274.6 828.9 271.9 827.1 268.4 825.9 265.8 824.7 262.5 825.4 264.1 826.4 265.3 827.5 266.3 828 265.4 828.7 263.2 828.5 265.4 829.7 266.7 831.8 269.3 832.9 271.1 835 273.3 836.2 277.2 838.8 280.2 839.7 282.1 841.6 284.4 842.3 286.3 842.5 288.9 843.2 291.5 843.7 292.6 846.4 292.4 849.9 291.4 852.8 290.3 855.1 288.6 859 286.8 862.1 285.1 864.2 284.2 866.5 283.3 868.6 281.7 868.8 280.7 870.5 278.9 872.2 275.4 870.2 273.5 867.4 272.8 866.3 271.1 866.3 268.8 865.8 269.1 864.4 270.5 862.8 271.9 859.5 272.4 857.7 271.9 857.9 270.7 857.2 269.1 856.5 270.2 855.5 269.7 855.1 268.1 852.8 265.8 851.6 263.5 852.5 262.3 853.4 261.6 855.5 262.3 856.5 264.1 857.7 266.2 860.4 267.6 863 268.2 866.1 267.4 867.4 267.9 867.9 269.7 870.5 270.2 873.5 270.5 876.1 270.9 880.5 270.7 884 270.4 884.9 271.4 885.7 272.8 887.5 273.9 889.2 274.6 890.1 274.9 888.4 275.8 890.5 278.1 891.9 278.4 893.8 277.5 894.5 275.9 894.7 277.2 894.8 278.9 895 281.6 895.9 285.1 896.8 287.7 897.6 289.4 898.5 292.1 899.7 294.1 901 297.3 901.5 299.1 903.2 300.6 904.5 299.2 905.9 298.5 907.2 296.8 907.4 294.7 908.1 291.9 907.8 290.3 908.1 287.7 909.7 286.8 911.6 285.4 914.6 282.8 916.7 280.7 918.8 279.8 919.5 278.9 919.9 277.4 921.6 276.8 923.4 276.7 926 275.8 928.2 275.6 928.6 276.7 930 278.9 931.6 280.7 932.8 283.3 932.6 286.8 934.2 287.1 935.6 285.9 937 285.1 938.4 285.9 938.6 287.7 939.5 290.3 940.2 293.8 940 297.3 939.6 300.8 940 300.5 941.7 302 943 303.4 943.1 304.6 943.5 306.9 944.9 309.7 946.1 310.8 948.7 312.5 950 312.4 948.7 309.9 948.5 306.9 947 304.3 945.2 302.9 943.5 302.2 942.6 299.9 941.2 298.5 941.7 295.6 942.6 292.9 943.5 291.2 944.4 292.6 947 293.8 948.7 296.2 951 297.3 951.4 299.6 954 298.2 954.5 296.8 956.6 295.9 958.9 293.8 958.7 291.2 957.1 286.8 955.7 285.9 954 284.2 952.6 281.6 954.5 278.4 957.1 277 959.6 277.4 960.5 279.3 960.8 277.7 962.7 277.2 966.2 275.9 967.5 275.8 971.5 274.6 973.2 273.3 975 271.6 976.9 270.2 978.5 267.6 980.4 265.3 981.1 262.5 978.5 261.8 980.8 260.7 980.9 259.3 979.2 257.8 977.6 255.3 976.4 253.6 978.1 251.8 981.5 250.2 982 249.4 978.8 248.7 975.9 249.5 975.7 248.3 973.8 246.2 976.7 245.2 980.9 243.2 980.8 243.9 980.2 246.9 981.1 246.2 985.1 244.8 986.7 245.7 986.4 248.3 989.2 249.2 989 250.4 989 252.7 988.6 254.4 990.7 254.1 993.4 253.4 994 252.7 994 250.1 992.5 247.8 990.7 246.2 990.7 245.2 994.2 243.6 994.6 242.2 996.3 240.4 998.6 239.2 1001.2 239.6 1004.7 237.8 1007.4 235.5 1010 233.4 1012.6 230.8 1013.5 229.1 1013.5 226.4 1015 223.4 1014.9 221.5 1012.6 221.2 1008.2 220.3 1004.4 219.1 1007.4 218.6 1010 215.1 1013.5 213.3 1017.9 211 1022.2 210.9 1026.6 211 1031.5 210.7 1031.8 211.2 1037.1 211 1038.8 210.2 1042.3 207 1047.6 207.2 1051.1 206.7 1054.6 205.4 1053.7 207.2 1050.2 208.9 1045.8 211.6 1042.3 213.5 1040.1 215.1 1039.9 218.6 1040.2 222.1 1041.8 225.6 1044.1 223.8 1045.3 222.1 1047.6 221.2 1051.1 218.6 1053.2 216.4 1051.1 213.7 1053.4 212.4 1055.5 210 1059 209.8 1065.6 209.8 1068.6 208.1 1073 206.7 1077.3 205.4 1081.7 204.9 1078.2 201.6 1080 201.6 1082.6 201.1 1084.3 198.8 1085.2 200.2 1090.5 201.4 1095.7 201.9 1100.1 199.1 1094.8 197.6 1087.8 195.3 1082.6 194.2 1075.6 192.8 1066.5 192.1 1066 194.1 1060.7 192.7 1054.6 192.8 1048.5 193 1047.6 191.9 1042.3 190.6 1034.5 190.6 1030.1 189.3 1023.1 188.3 1014.4 187.4 1012.6 187.9 1007.4 189.7 1000.4 189.7 996.9 190.6 994.2 189.7 989.9 187.9 989 186.2 982.9 186.5 974.1 186.5 964.5 185.7 960.1 184.8 966.2 182.5 963.6 180.9 954.9 180.4 950.1 178.8 939.1 181.3 928.6 182 919.9 183.6 918.1 185.5 908.5 186 908.5 187.4 903.2 188.3 898.9 188.3 896.2 190.6 897.1 194.1 896.2 196.7 891 198.4 893.6 197.6 895.4 194.9 894.1 192.3 895.4 189.7 894.5 187.4 888.4 187.2 885.4 189.7 884.9 191.4 884.9 194.4 880.5 193.7 873.5 192.8 869.1 194.4 863 195.3 860.4 194.9 851.6 196.3 849 197.6 848.1 195.4 843.4 194.6 845 196.7 844.6 198.8 841.1 198.4 837.6 199.7 838.1 201.8 834.1 202.1 832.4 203 828.5 201.9 828.5 200.2 824.5 197.4 828 198.3 832.4 198.8 837.6 198.9 839.7 197.9 838.5 196.2 830.6 194.1 825.4 193.5 820.1 192.8 821.9 191.8 816.6 190.6 812.8 190.4 809.6 190.6 805.2 191.9 800 192.7 795.6 194.1 793 195.8 790.4 197.9 788.6 200.2 786 202.3 782.8 203.7 779.9 204.6 776.4 206.3 776.4 209.1 777.4 211.9 779.9 213.3 781.6 213.1 784.2 211.9 786.2 210 787.2 211.7 788.6 214.5 789.8 216.6 790.2 217.9 792.6 217.7 795.2 216.6 796.3 215.8 796.7 213.7 799.1 211.6 800.5 210.2 797.7 208.6 798.2 206.3 800.9 204.2 804.7 201.9 806.5 200 810 199.7 812 200.7 810.5 201.4 805.2 204.2 804.9 206.3 805.2 208.4 807.7 210.2 811.4 209.4 817.5 208.9 820.5 210 816.6 210.5 811.4 210.7 808.7 211.2 810.1 212.8 809.6 215.1 806.1 214 804.4 215.4 804.4 218.2 802.2 219.6 800 219.1 795.6 219.8 792.1 220.3 789.5 219.6 786.9 220.3 785.1 219.4 785.1 218.6 786.5 216.8 785.6 215.9 786.2 213.8 784.8 214 781.8 215.1 782 217.7 782.8 219.4 782.5 220.7 779.9 221 778.1 221.4 775.8 222.1 774.6 223.8 772.9 225 770.4 225.7 770.2 227.1 767.8 228.2 765.9 228.4 764.5 227.8 764.8 229.6 762.4 229.4 759.4 230.1 760.1 231.2 763.8 232.2 765.5 234.3 765.5 236.6 764.5 238.9 761.5 238.7 758 238.7 753.6 238.3 751.3 239.6 752.2 241.3 752.2 243.9 751 247.1 752.2 247.4 752 250.1 754.7 249.7 756.6 250.8 757.8 251.8 758.2 251.6 759.9 250.6 763.8 250.6 766.4 249 766.7 247.8 768 247.1 767.1 245.7 769 243.4 771.5 242.4 773.2 241.5 773 240.6 773.2 239.6 774.6 238.7 776.4 238.9 778.1 239.4 780.4 238.3 781.6 238 783.2 237.1 784.8 237.6 785.6 238.7 786 239.7 786.9 240.6 789 241.7 790.4 242.7 792.5 243.4 793.5 243.8 794.9 244.8 796 246.6 795.1 248.3 796.5 247.8 797.7 246.6 796.7 245.2 797.2 244.1 799.6 245.2 800 244.6 799.1 243.8 796.1 242.5 795.6 241.5 792.6 240.8 791.4 238.7 789.3 237.3 789.1 235.5 791.6 234.8 791.4 235.7 791.8 236.2 793 235.7 794.2 237.4 796.3 238.7 799.5 240.2 800.9 240.9 801.7 242.2 801.5 243.9 802.6 245.2 803.8 245.7 804.4 246.9 805.2 247.8 804.7 248.7 805.6 250.4 807 250.9 807.9 250.9 808.2 249.5 807.9 248.5 809.6 248.8 809.6 248.3 808.2 246.6 807.3 245.7 807.7 243.9 808.7 244.3 809.6 244.8 810.5 243.2 813.1 243.4 814.3 243.9 813.5 244.8 814.5 245.7 814 247.2 815.2 247.6 815.5 250.1 818.4 251.3 821.2 250.4 824.5 251.6 827.1 251.3 828.9 250.6 831 250.8 830.2 252.7 829.7 255.5 828.7 257.9 827.5 260M188.3 242.7 192.7 242.7 196.2 241.3 198.8 241.3 201.5 242.5 205 243.2 207.6 243.1 210.2 242.2 210.4 240.4 207.6 238.7 205 237.3 202.9 236.1 204.1 233.4 206.4 232.2 204.1 232.4 202 233.1 198.8 233.9 198.8 235.2 201.5 235.5 199.4 236.1 197.1 237.1 196 236.8 194.5 235.5 196.6 234.1 193.9 233.8 191.5 233.4 189.6 235.7 187.8 237.8 186.6 239.9 186.1 240.4 186.9 242.2 188.3 242.7M220.7 239.6 222.5 241.3 224.2 243.9 225.6 244.1 223.9 246 223.2 247.6 224.2 249.2 226.8 250.4 230.3 250.2 232.1 249.2 231.8 246.2 230.3 244.8 230 242.7 230.3 241.7 229.5 240.4 227.2 239.2 225.6 237.3 226.8 236.8 227.4 235.5 230.3 235.5 230.3 232.9 226.8 232.6 223.3 233.4 221.2 234.8 219.8 236.4 220.7 239.6M240 236.1 241.7 233.2 244.3 233.2 245.8 235.2 244.3 237.8 241.4 238.5 240 236.1M266.2 234.3 269.7 232.9 274.1 233.4 275.9 233.4M319.2 224.7 322.2 222.9 325.7 221.2 328.4 218.6 329.8 217.3 328 220.3 324 223.8 320.5 224.9 319.2 224.7M223.9 335.8 225.4 341.9 224.2 344.6 223.3 348.1 221.6 354.2 219.8 358.6 217.2 359.4 214.6 358.6 213.4 354.2 215.1 349.8 214.6 345.4 215.5 343.1 219 342.3 221.6 338.4 223.9 335.8M193.2 315.7 194.5 314.3 197.1 314.3 197.4 316.6 196.2 319.2 193.6 319.2 193.2 315.7M188.9 320.9 189.6 324.4 191.5 329.7 191.2 327.1 189.4 321.8 188.9 320.9M197.1 331.6 198 334.9 198.5 339.3 199.2 339.8 198.5 335.8 197.6 332 197.1 331.6M127.6 227.1 131.5 226.8 135 226.1 139.9 225.2 138.5 224.7 140.6 222.6 138.1 222.1 137.8 221 135.5 219.2 134.8 217.7 132.3 216.8 134.1 214.2 131.5 213.8 130.6 214 132.3 212.2 128.8 212.2 127.4 214.2 128 215.9 126.8 216.3 128.8 218 129.2 218.9 131.8 218.7 132.3 220.5 132.3 221.5 129.7 221.5 130.2 222.6 130.1 223.4 128.5 224.2 131.5 224.9 132.3 225 130.1 225.6 127.6 227.1M757.6 227.1 761.5 226.8 765 226.1 769.9 225.2 768.5 224.7 770.6 222.6 768.1 222.1 767.8 221 765.5 219.2 764.8 217.7 762.4 216.8 764.1 214.2 761.5 213.8 760.6 214 762.4 212.2 758.9 212.2 757.5 214.2 758 215.9 756.8 216.3 758.9 218 759.2 218.9 761.8 218.7 762.4 220.5 762.4 221.5 759.7 221.5 760.2 222.6 760.1 223.4 758.5 224.2 761.5 224.9 762.4 225 760.1 225.6 757.6 227.1M756.8 221.5 756.6 223.4 753.6 224.3 750.1 224.5 750.1 222.9 751.3 221.7 750.1 219.9 752.7 219.6 753.1 218.2 756.2 218.2 757.8 219.2 756.8 221.5M728.2 202.8 730.9 203.3 734.7 203.9 739.6 202.8 743.1 201.6 743.5 200.2 741.4 198.9 738.7 198.6 735.2 199.1 731.7 199.7 730 200.2 728.2 198.6 725.6 199.8 728.2 200.7 725.6 201.2 729.1 202.1 728.2 202.8M159.5 248.3 164.7 247.9 164 250.6 159.5 249 159.5 248.3M152.1 243.4 154.2 242.7 154.6 246.2 152.5 246.6 152.1 243.4M152.8 240.4 154.2 239.7 154 242.2 152.8 241.7 152.8 240.4M178.9 252.9 183.6 253.2 180.5 253.6 178.9 252.9M194.3 253.6 198 252.5 196.8 253.9 194.8 254.1 194.3 253.6M227.7 189.7 230.3 187.9 234.7 185.3 239.1 183 246.1 181.5 253.1 180.2 257.5 180.4 253.1 182.2 244.3 183.6 239.1 185.7 234.7 188.8 238.2 191.1 233 190.9 228.6 190.2 227.7 189.7M156.8 176.6 162.1 179.2 166.5 180.4 170.8 177.4 175.2 177.8 176.1 175.7 184.8 174.8 176.1 174.1 169.1 174.5 165.6 175.2 158.6 175.2 156.8 176.6M219.8 174.3 228.6 174.6 235.6 174.1 242.6 173.4 247.8 172.5 239.1 172 228.6 173.1 219.8 173.6 219.8 174.3M303.9 176.2 312.6 178 320.5 177.6 321.4 175.7 312.6 174.8 307.4 173.1 298.6 173.9 303.9 176.2M377.4 183 384.4 185 389.6 183.6 400.1 183.6 393.1 181.8 382.6 181.8 377.4 183M450 190.6 454.4 189.7 457 190.6 452.6 190.9 450 190.6M386.1 219.8 387.9 222.1 388.7 225.6 387.9 228.2 390.8 229.4 387.9 231.7 388.7 234.3 386.1 234.3 386.4 230.8 386.1 227.3 385.6 223.8 386.1 219.8M382.6 242.2 385.2 240.4 388.7 241.3 392.2 239 391.4 237.4 387.9 237.3 385.8 235.4 384.9 239 382.9 239.9 382.6 242.2M384.9 242.5 385.8 244.8 385.2 247.8 384 250.4 383.5 253 381.7 253.2 380 254.1 377.4 254.2 375.6 256.2 374.2 254.8 371.2 254.8 366.9 255.3 366.9 254.2 369.8 252.7 374.7 252.5 377 249.7 380 249.4 382.1 246.6 382.6 243.9 384.9 242.5M365.1 256.2 367.7 256 368.2 257.9 366.9 260 365.4 260 365.4 257.6 364.6 256.7 365.1 256.2M369.5 255.3 373.1 254.8 372.4 256.4 370.4 257.4 369.5 255.3M349.4 270.7 351.1 271.1 349 276.3 347.8 274.6 349.4 270.7M327.8 281 331 279.8 331.9 280.7 330.1 282.8 327.8 282.2 327.8 281M277.2 297.8 279.7 299.9 280.8 302.2 279.4 304 277.8 304.3 277.2 301.7 277.2 297.8M348.5 282.4 351.4 282.4 351.6 285.1 350.4 287.1 351.1 290.3 354.6 292.1 354.6 292.9 352 291.2 349.4 290.8 348.6 289.4 347.6 288.6 348.1 285.9 348.5 282.4M351.1 302.6 353.7 299.8 357.2 297.6 359 300.8 358.4 303.8 357.2 304.6 354.6 304 354.6 302 351.1 302.6M355.1 292.9 356.9 293.3 357.2 295.6 356 297.3 355.1 295 355.1 292.9M342.7 300.1 346.7 295 346.4 297 343.8 299.6 342.7 300.1M352 296.1 353.7 295.9 353.2 298.7 352 298 352 296.1M304.4 305 308.2 305.7 312.6 309.9 318.7 314.8 320.5 318.3 323.1 320.4 322.8 325 320.5 325 316.6 321.8 313.5 317.4 310.9 313.9 308.2 310.4 304.4 305M321.7 326.7 324 325.3 327.5 326.2 331.3 326 334.8 326.9 337.8 328.3 337.6 330 331.9 329.3 327.5 328.5 323.8 327.8 321.7 326.7M328.4 311.6 330.6 311.8 332.4 310.4 335.4 309.2 337.1 306.9 339.7 305.2 341.8 302.6 343.6 303.8 346.2 305.7 344.1 307.3 343.6 309.6 345.5 313.1 343.8 313.4 343.2 316.2 341.5 317.4 340.6 321.5 338 322 335.4 320.4 333.1 320.8 330.4 319.9 330.1 317.1 328.4 314.8 328.4 311.6M347.2 313.6 349 312.5 352.9 313.2 356.4 312 355.1 314.1 350.2 313.9 348.1 316.4 349.9 316.6 353.4 316.2 350.8 318.1 352.5 321.8 351.6 323.2 350.2 322.7 349.4 319.5 348.1 320.1 348.3 324.4 346.7 324.4 346.7 320.9 345.5 319.7 347.2 313.6M353.9 332.8 356.4 330 359.9 329.5 357.2 331.6 353.9 332.8M340.6 329.7 345 329.5 347.6 329.7 352.5 329.3 351.1 330.4 345.9 330.2 341.5 330.4 340.6 329.7M360.7 311.6 361.6 313.9 362.5 316 361.9 313.9 361.6 311.1 360.7 311.6M361.6 320.4 366.5 320.1 364.2 320.9 361.6 320.4M366.9 316.2 369.5 315.5 372.1 316.4 372.6 319.2 374.7 320.6 378.2 317.6 384.4 319.4 390.5 321.5 392.8 324.4 395.7 325.3 394.9 326.7 397.5 330 401.5 332.8 399.2 332.8 394.9 331.4 392.2 328.8 388.7 329.3 387.9 330.9 384.4 330.9 380.9 328.8 379.1 329.5 380.5 326.7 378.2 323.9 373.9 322.5 370.4 321.8 370 319.7 371.8 318.6 368.6 318.6 366.9 316.2M397.1 324.8 400.4 324.4 403.6 322.1 404.1 323.6 401 325.8 397.1 324.8M401.5 319.4 404.5 321.5 405.4 323 403.6 320.9 401.5 319.4M410.6 326.5 413.2 327.9 416.7 329.3 419 331.4 416.7 330.6 412.4 327.9 410.6 326.5M424.6 350.1 427.2 352.1 429.9 354 427.8 353 424.6 350.1M447.9 345.4 450.1 345.6 449.8 346.6 447.9 346.3 447.9 345.4M429.1 341.1 430.2 342.3 429.5 342.3 429.1 341.1M336.6 354.2 337.4 353 342 350.9 345.9 349.8 349.4 349.1 351.6 346.3 351.4 344.6 353.9 345.1 354.1 343.1 356.9 341.1 359.9 339.3 361.9 340.9 364.2 340.9 364.6 338.4 366.5 336.5 369.6 336 369.5 334.8 373.9 336.1 377 336.1 375.6 338.4 374.7 341.1 377.4 342.6 381.2 345.4 384 345.4 385.4 341.1 385.6 337.4 387 333.7 388.7 337.2 389.2 340 391.9 340.9 392.8 344.6 393.6 347.9 397.5 350 399.6 354 401.5 355.9 405 359.1 405.7 362.1 406.4 365 405.4 369.1 403.6 372.2 401.9 374.8 400.4 378.3 399.9 380.4 396.2 381.3 393.6 383.2 391.4 382 388.7 382.7 385.2 381.8 382.6 380.4 381.7 377.5 379.4 377.1 379.1 374.8 378.4 376.4 377 376.6 378.8 372.9 378.2 374.3 375.2 375.7 374.2 374 372.4 372.2 368.9 370.8 367.2 369.9 363.2 370.3 358.1 371.3 354.6 372.6 353.7 374.1 349.4 374 346.7 375 344.1 376.1 340.6 375.9 338.9 374.8 340.1 371.7 340.1 369.9 338.9 367.3 337.4 362.9 336.1 360.3 336.8 358.6 336.1 356.8 336.6 354.2M390.8 386 394 386.7 396.9 386.4 397.1 388.3 395.7 390.6 393.1 391.1 391.9 389.2 390.8 386M439.8 375 442.6 377.3 444.7 379.2 445.6 380.6 449.1 380.6 449.6 382.2 447.4 383.6 447 385.3 444.4 387.6 443.5 387.1 444.2 385.1 441.8 383.6 443.3 381.6 443 379 440.4 376.4 439.8 375M439.8 385.7 442.1 386.9 442.4 388 440 390.9 437.4 392.3 436.5 395 434.2 396.4 432.1 396.2 429.1 395.3 431.2 392.7 436 390.1 437.4 388 439.8 385.7M473.6 200 476.2 198.9 480.6 198.4 481.5 199.1 485 198.8 484.1 197.6 480.9 197 480.6 195.8 476.2 195.1 478 194.2 482.4 193.2 485.9 191.8 491.1 190.9 493.7 190 498.1 190.9 502.5 191.4 508.6 191.8 513.9 192.3 520.9 193 525.2 193.7 528.7 194.2 531.4 193.2 534.9 193.2 538.4 192.5 541.9 192.3 543.6 191.3 546.2 193.2 549.7 192.3 552.4 193.2 556.7 193.3 562.9 194.2 566.4 195.8 568.1 195.4 569.9 196.3 575.1 196 578.6 196.7 578.6 197.9 580.4 196.2 583.9 195.8 589.1 196.2 594.4 196.2 596.1 194.9 599.6 195.4 600.5 197 603.1 195.4 604 193.5 602.2 191.8 599.1 190 602.2 188.8 604.9 190 605.7 192.7 608.4 193.5 610.1 194.9 613.6 194.6 617.1 196.2 614.5 197.2 618.9 194.1 618 192.8 624.1 192.7 625 194.9 623.2 196.7 625.3 197.6 621.5 198.9 617.1 199.3 617.1 202.8 613.6 202.8 610.1 203.2 608.4 204.6 604.9 206.3 603.1 208.1 601.9 211.6 605.7 214.5 610.1 215.1 613.6 215.9 618.9 218 623.6 218.4 623.8 222.1 625.9 223.8 627.6 225.2 629.4 224.5 629.7 222.1 629.4 219.4 632.9 217.7 633.2 215.1 630.2 211.9 632 209.8 631.1 205.8 635.5 205.8 639 206.3 641.6 207.2 645.1 208.1 646 210.7 645.1 211.6 646.9 212.9 649.5 212.8 652.1 211.6 654.4 209.1 656.5 211.6 659.1 214.2 660.3 216.4 662.6 218.2 666.1 218.9 667.5 220.3 669.6 222.1 670 223.8 667.9 224.9 664.4 226.8 660 227.1 655.6 226.8 651.2 226.9 649.5 228.5 646.9 230.3 643.4 232.9 646 231.2 650.4 229.1 654.7 228.7 655.1 229.4 653.3 230.8 654.2 232.2 654.7 233.8 656.5 234.3 659.1 234.7 660.9 235.2 660.9 233.4 662.1 232.6 663 234.3 660.9 235.5 656.8 236.6 654.7 237.8 652.6 238.7 651.8 237.3 654.7 235.5 652.1 235.7 650.4 236.4 647.7 237.3 645.1 238.3 643.9 240.1 643.7 240.9 645.1 241.7 642.8 242.2 639.9 242.7 638.1 243.8 638.1 245.7 636.4 246.7 635.5 245.7 636.2 247.4 634.9 249.5 634.1 250.1 634.1 246.6 634.6 250.1 635.1 252.2 635.5 253.2 633.2 254.1 631.1 255.5 629 256.7 626.2 258.6 625.2 261.4 626.5 264.9 627.6 267.9 627.2 270.4 625.9 270.9 624.4 269.3 622.9 266.2 622.7 264.1 620.6 262.1 618 262.7 616.2 261.6 613.6 261.8 611 261.9 611.5 263.9 609.2 263.7 606.6 263 603.4 262.8 601.4 263.7 598.7 265.3 597.3 267 597.5 269.3 596.4 272.8 596.4 275.8 597.5 278.6 599.2 281.2 601.4 282.2 602.6 282.9 605.7 282.2 608.4 281.9 608.9 281 609.4 278.4 611 277.5 613.6 277 615.4 277.2 615.7 278.4 614.5 280.7 613.9 282.8 613.1 284.2 612.4 286.8 613.6 287.1 617.1 287 619.7 287.1 621.8 288.6 621.3 292.1 621.1 294.7 622.4 297.3 624.1 299.1 625.9 299.4 628.1 298.2 630.2 298.4 632.3 299.8 633.2 300.8 635.3 298.2 635.5 296.4 636.7 295.6 639.9 294.9 642.1 293.1 642.8 294.7 641.9 296.4 645.1 294.7 645.1 293.6 647.7 295.2 648.6 296.2 652.1 296.2 654.7 297 657.4 296.1 659.1 296.1 658.2 297.3 660.9 298.2 661.2 299.8 664.4 300.8 667 303.8 667.9 304.3 671.4 304.5 673.1 304.8 675.7 306.1 677.5 307.3 678.7 310.4 680.1 313.1 680.1 314.8 682.7 316.2 683.6 316 687.1 316.9 690.1 319.2 695 319.9 697.6 319.7 700.2 321.3 702.9 323.2 705.8 323.9 706.4 326.2 706.7 328.8 705.5 331.4 702.9 334.1 700.2 337.6 699.4 341.1 699.4 344.6 698.1 348.9 697.1 350.3 695.9 353.3 694.1 354.9 692 355.1 689.4 355.6 686.6 356.8 683.6 359.1 682.5 361.2 682.5 363.8 681 365.9 679.6 368.2 677.8 369.9 676.2 371.1 674 374.3 671.5 375.9 669.2 375.9 666.5 375 665.4 374.3 665.2 374.8 667.5 376.6 667.9 378.3 667 381.3 664.4 382.5 659.1 383.1 658.6 385.7 653.9 386.2 654.7 388.8 656.1 389.2 653.9 390.1 653.3 392.7 649.5 395 652.1 397.1 652.5 398.5 649.5 401.1 646.9 403.2 646.9 404.9 647.9 406.3 648.1 407.6 649.5 409.3 653.5 410.5 651.2 411.2 648.6 411.9 646 411.6 643.4 410.2 640.7 408.4 638.1 406.7 636.4 404.1 635.8 400.6 637.2 397.9 635.3 396.7 638.1 393.6 639 390.9 638.4 388.3 638.6 384.8 639 382.2 639.3 379.9 640.4 376.9 642.3 372.6 642.5 369.1 642.7 366.4 643.4 362.9 644.2 359.4 644.4 355.9 644.8 351.6 644.6 347 642.5 345.1 639 343.3 636 341.6 634.1 339.1 632.7 335.8 631.1 332.6 629.9 330.2 628.1 327.4 625.9 325.3 625.3 322.7 627.1 320.8 627.9 318.8 626 318.6 626.2 316.6 627.6 314.5 627.6 313.4 629.7 312.4 629.9 311 632 309.9 632.5 307.8 632 305.2 632.2 302.9 631.3 302 630.6 300.8 631.1 300.1 629.4 299.1 628.5 299.1 627.2 300.3 626.7 302.2 625.9 301.5 624.6 300.8 622.7 300.3 621.5 299.9 621.1 299.1 619.4 297.8 617.4 296.8 617.6 295.4 615.9 293.5 614.3 292.1 612.7 291.7 610.1 290.8 607.5 290.3 606.1 289.2 603.4 286.8 601.4 286.5 598.7 287.3 595.2 286.1 592.8 285.4 589.4 283.7 586.5 282.6 585.1 281.4 583 279.4 583.3 277.2 582.1 274.6 581.4 274.2 578.6 271.1 576.3 269.3 575.4 267.6 574 266 571.6 264.1 570.2 261.4 569 260 566.7 259.3 566.9 261.4 569 264.1 570.4 265.8 571.6 268.4 572.8 270.2 574.6 272.4 576 274 575.1 274.7 573.7 273.3 571.2 271.6 571.2 269.3 569 267.9 567.2 266.2 567.8 265.8 567.6 264.4 565.1 261.8 563.5 259.2 562.7 257.8 560.4 255.7 558.5 254.8 556.5 254.4 555.9 252.5 554.3 250.8 553.2 248.7 552.4 247.8 550.9 245.7 549.9 244.1 550.4 241.7 549.7 239.9 550.6 236.9 550.6 233.9 549.4 230.1 552.4 230.4 553.2 231.7 552.7 229.1 552 228.5 549.2 227.3 545.4 225.6 543.9 223.3 541.9 221.2 539.8 219.4 539.2 217.7 536.6 216.8 534 214.2 531.4 212.4 528.7 212.9 526.1 211.6 523.1 210.5 519.1 209.8 515.6 209.4 512.1 208.4 509.5 208.1 507.7 209.8 505.1 210.9 501.9 211 502.5 208.9 505.1 207.7 502.1 208.4 499.9 210.2 498.1 211.6 497.8 212.9 493.7 215.1 490.2 216.8 486.7 217.9 483.2 218.6 479.2 219.2 482.4 218.2 486.7 216.8 489.7 214.5 492 212.1 489.4 212.4 486.7 211.9 484.1 212.1 484.1 209.8 479.7 208.9 478 207.2 477.1 206.3 478.9 204.6 480.6 204.2 485 203.7 485.9 202.3 485.9 201.8 482.4 201.9 478.1 201.9 476.2 201.1 473.6 200M551.8 230.1 548.9 229.4 546.2 228.2 543.1 226.1 544.5 225.9 548.3 226.9 550.6 228.5 551.8 230.1M538.4 223.8 535.7 221.7 534.9 220.1 537.1 220.3 536.9 222.1 538.4 223.8M497.2 215.1 500.7 214.2 501.1 212.8 498.4 213.7 497.2 215.1M467.1 203.9 470.1 204.2 472.2 204 469.2 203.3 467.1 203.9M474.8 209.6 477.6 209.8 476.8 209.1 474.8 209.6M663.8 231.5 665.6 229.1 667 226.4 670.1 224.7 670.5 226.4 669.6 227.7 673.1 228.2 674 229.9 674.9 231.7 675.4 232 674.5 233.2 673.1 232.6 670.5 232.7 669.6 231.7 663.8 231.5M654.7 227.7 659.6 228.9 656.5 228.5 654.7 227.7M619 276.5 622.4 274.6 625 274.4 628.5 275.4 632 276.8 635.1 278.2 637.8 279.4 636.4 280 631.6 280 632.9 278.9 630.2 277.4 626.7 276.5 624.4 275.9 622.7 275.8 620.9 276.5 619 276.5M637.4 282.6 639.9 280 642.1 280.2 645.1 280.3 647.9 282.1 646.9 282.8 644.2 282.8 642.5 283.8 640.7 282.9 637.4 282.6M630.6 282.8 634.1 283.1 632.5 283.7 630.6 282.8M650 282.6 652.6 282.8 652.1 283.3 650 283.3 650 282.6M659.5 296.1 660.9 295.9 660.9 297.1 659.5 297.1 659.5 296.1M630.8 270.9 631.4 272.4 631.8 271.4 630.8 270.9M660.9 404.9 664.4 404.6 666.5 405.1 664.4 406.1 660.9 405.8 660.9 404.9M647.5 406.9 644.2 407.2 643.4 409 645.1 410.2 647.5 406.9M701.1 409.3 704.6 410 703.7 410.7 701.1 409.3M258 400.6 261 400.9 260.1 401.8 258 401.2 258 400.6M639.9 178 648.6 175.7 653.9 173.9 662.6 171.7 680.1 170.8 694.1 169.6 709 168.5 723.9 169.9 732.6 171.7 747.5 172.5 737.9 174.8 735.2 177.4 736.1 180.1 732.6 182.7 734.4 184.4 729.1 186.2 729.1 188.8 725.6 189.7 729.1 191.4 723.9 193.2 716.9 195.3 709.9 197 704.6 199.3 701.1 200 697.6 201.1 695.9 203.7 693.2 206.3 692.4 208.9 690.6 210 687.1 208.8 682.7 208.1 680.1 205.4 677.5 202.8 674.9 199.3 673.5 197.6 674 194.9 678.4 193.2 672.2 191.8 672.2 189.7 669.6 187.1 666.1 183.6 660.9 181.8 652.1 181.8 646.9 180.1 643.4 179.2 639.9 178M653 206.5 643.4 204.9 638.1 202.3 631.1 201.9 632 200.2 638.1 200.2 639.9 196.7 636.4 194.9 632.9 193.2 629.4 192.3 624.1 192.3 618.9 191.9 611.9 191.4 611 190.6 610.1 187.1 613.6 185.7 618.9 185.8 620.6 187.4 618 189.7 620.6 186.2 625.9 185.8 627.6 187.9 631.1 187.1 634.6 187.4 638.1 189.2 643.4 190.6 647.7 192.3 650.4 194.1 647.7 195.3 653.9 196.2 659.1 197.6 660 198.8 657.4 201.1 650.4 198.8 648.6 199.3 653.9 201.9 655.6 203.7 648.6 203.3 653 206.5M559.4 189.7 564.6 187.1 571.6 187.6 578.6 186.7 583 187.4 583.9 190.6 590 192.3 589.1 194.1 582.1 194.6 576.9 194.4 569.9 194.8 563.7 193.5 562 191.4 559.4 189.7M548 188.8 550.6 185.3 555.9 184.4 562 186.2 559.4 188.8 552.4 190.2 548 188.8M562.9 182.7 571.6 181.3 582.1 181.8 582.1 183.9 571.6 184.4 562.9 182.7M589.1 185.7 597.9 185.7 598.7 188.8 594.4 190 589.1 187.9 589.1 185.7M600.5 185.3 609.2 185.3 606.6 187.4 601.4 188.8 600.5 185.3M606.6 180.9 627.6 182.7 626.7 184.1 606.6 184.1 606.6 180.9M631.1 181.3 613.6 180.9 610.1 178.3 617.1 173.9 606.6 172.5 618.9 170.4 636.4 169.4 657.4 170.4 659.1 171.8 645.1 174.3 638.1 176.6 634.6 178.3 631.1 181.3M601.4 176.6 606.6 173.1 613.6 174.8 610.1 177.4 601.4 176.6M615.4 200.2 620.6 199.7 625.9 202.3 620.6 204.2 616.2 203.5 615.4 200.2M594.4 194.1 599.6 192.7 600.5 194.4 596.1 194.8 594.4 194.1M585.6 180.9 596.1 180.8 597.9 183.2 589.1 183.6 585.6 180.9M606.6 232.9 611.9 230.8 617.1 229.6 619.4 231.7 619.2 233.1 615.4 233.4 610.1 233.1 606.6 232.9M613.9 241.3 614.5 237.8 617.1 234.5 618.9 234.8 616.6 237.8 616.2 240.9 613.9 241.3M619.7 234.5 625 234.3 627.6 236.1 625 236.9 623.2 239.6 621.5 237.8 621.8 235.7 619.7 234.5M621.7 241.8 625.9 240.1 629.4 239.9 627.6 240.9 623.2 242.4 621.7 241.8M628.1 239 632.9 238 634.1 237.8 633.7 238.9 629.4 239 628.1 239M598.2 226.6 595.2 222.9 596.1 220.7 597.9 223.3 599.1 226.2 598.2 226.6M562.9 208.1 568.1 205.9 575.1 204.9 572.5 207.2 566.4 208.2 562.9 208.1M548.9 200.5 552.4 198.8 558.5 197.9 561.1 200.2 555.9 201.1 551.5 201.1 548.9 200.5M573.4 212.1 582.1 211 576.9 211.6 573.4 212.1M494.6 279.4 496.4 280.2 495.1 281.6 494.6 279.4M127.1 438.4 137.6 437.6 153.3 437.3 172.6 437.6 190.1 436.1 198 434.5 206.7 436.8 216.3 433.5 224.4 432.4 231.6 430.1 237.3 431.5 242.2 432.9 249.6 433.1 258.2 434.1 260.1 436.4 261.7 438.2 266.9 436.4 274.1 434.7 277.6 434.1 286.4 432.1 295.1 431.5 303.9 431.2 311.7 430.6 321.4 431.4 329.4 431 338.9 431.5 347.1 431.9 356.4 431.2 364.8 431.5 373.9 430.8 382.6 431.9 393.1 434.1 400.1 434.9 408.9 435.9 417.6 437.6 426.7 438.5 436.5 440.3 433.9 444 426.4 445.4 423.2 446.6 424.6 449.6 417.9 452.7 419.7 456.2 435.6 459.7 452.6 461.6 477.1 463.6 511.2 463.7 499.9 462.5 498.1 458 513 456.2 505.1 454.5M757.1 438.4 767.6 437.6 783.4 437.3 802.6 437.6 820.1 436.1 828 434.5 836.7 436.8 846.4 433.5 854.4 432.4 861.6 430.1 867.4 431.5 872.2 432.9 879.6 433.1 888.2 434.1 890.1 436.4 891.7 438.2 896.9 436.4 904.1 434.7 907.6 434.1 916.4 432.1 925.1 431.5 933.9 431.2 941.7 430.6 951.4 431.4 959.4 431 968.9 431.5 977.1 431.9 986.4 431.2 994.8 431.5 1003.9 430.8 1012.6 431.9 1023.1 434.1 1030.1 434.9 1038.8 435.9 1047.6 437.6 1056.7 438.5 1066.5 440.3 1063.9 444 1056.3 445.4 1053.2 446.6 1054.6 449.6 1048 452.7 1049.7 456.2 1065.6 459.7 1082.6 461.6 1107.1 463.6 1141.2 463.7 1129.8 462.5 1128.1 458 1143 456.2 1135.1 454.5M492 451 504.4 448.9 522.1 447.5 539.8 446.6 547.1 447.6 553 443.4 564.6 445.7 575.1 444.6 585.6 445.7 592.6 442 601.4 441.1 610.1 442.4 626.7 442.4 633.7 440.3 638.1 439.9 639.9 442.2 648.6 441.7 649.7 436.8 646.9 432.4 655.1 428.9 662.1 425.8 669.2 425.2 660.3 427.9 656.8 433.3 660.3 436.8 662.1 442.9 658.6 446.6 650.4 449.2 662.1 449.6 679.8 451.8 697.6 452.7 708.1 451 715.1 449.2 723.9 446.6 732.6 444 746.6 440.3 755.7 438.9 767.6 437.6 778.1 437.3M-138 451 -125.6 448.9 -107.9 447.5 -90.2 446.6 -82.9 447.6 -76.9 443.4 -65.4 445.7 -54.9 444.6 -44.4 445.7 -37.4 442 -28.7 441.1 -19.9 442.4 -3.3 442.4 3.7 440.3 8.1 439.9 9.8 442.2 18.6 441.7 19.7 436.8 16.8 432.4 25.1 428.9 32.1 425.8 39.3 425.2 30.3 427.9 26.8 433.3 30.3 436.8 32.1 442.9 28.6 446.6 20.3 449.2 32.1 449.6 49.8 451.8 67.6 452.7 78.1 451 85.1 449.2 93.8 446.6 102.6 444 116.6 440.3 125.7 438.9 137.6 437.6 148.1 437.3M481.5 453.6 486.7 453.1 485.9 454.1 481.5 453.6M491.1 451.8 497.2 451.3 496.4 452.5 491.1 451.8M634.6 437.3 642.5 435.6 645.1 438.2 646.9 440.8 639.9 440.5 634.6 437.3M660.9 424.2 666.1 423.3 664.4 424 660.9 424.2M687.1 420.9 689.7 421M564.4 179.2 562.4 178.7 558.1 179.4 554 180.9 552.5 182.3 554.5 182.8 558.8 182.1 562.9 180.6 564.4 179.2M593.5 177.4 592.2 176.6 589.1 176.2 586 176.6 584.7 177.4 586 178.3 589.1 178.7 592.2 178.3 593.5 177.4M601.4 177.8 600.6 177.2 598.7 176.9 596.9 177.2 596.1 177.8 596.9 178.4 598.7 178.7 600.6 178.4 601.4 177.8M604 183.2 603.2 182.6 601.4 182.3 599.5 182.6 598.7 183.2 599.5 183.8 601.4 184.1 603.2 183.8 604 183.2M632.9 186.7 631.8 186.1 629.4 185.8 626.9 186.1 625.9 186.7 626.9 187.3 629.4 187.6 631.8 187.3 632.9 186.7M635.8 196.2 635.2 195.4 633.7 195.1 632.2 195.4 631.6 196.2 632.2 196.9 633.7 197.2 635.2 196.9 635.8 196.2M625.9 205.1 625.1 204.5 623.2 204.2 621.4 204.5 620.6 205.1 621.4 205.7 623.2 205.9 625.1 205.7 625.9 205.1M628.7 206.3 628.3 205.4 627.6 205.1 626.9 205.4 626.5 206.3 626.9 207.2 627.6 207.5 628.3 207.2 628.7 206.3M627.1 222.1 626.6 221.7 625.5 221.5 624.4 221.7 623.9 222.1 624.4 222.4 625.5 222.6 626.6 222.4 627.1 222.1M629.7 216.4 629.3 215.7 628.5 215.4 627.6 215.7 627.2 216.4 627.6 217.2 628.5 217.5 629.3 217.2 629.7 216.4M225.4 193.9 224.8 193.3 223.3 193 221.9 193.3 221.2 193.9 221.9 194.5 223.3 194.8 224.8 194.5 225.4 193.9M243.3 191.5 242.5 191.2 241.3 191.5 240.3 192.4 240.2 193.1 240.9 193.4 242.1 193.1 243.1 192.2 243.3 191.5M320.8 177.3 319.7 176.6 317 176.4 314.2 176.6 313.1 177.3 314.2 177.9 317 178.1 319.7 177.9 320.8 177.3M577.7 177.4 576.4 176.8 573.4 176.6 570.3 176.8 569 177.4 570.3 178 573.4 178.3 576.4 178 577.7 177.4M574.8 178.8 573.8 178.3 571.6 178.1 569.4 178.3 568.4 178.8 569.4 179.3 571.6 179.5 573.8 179.3 574.8 178.8M658.7 233.9 658.3 233.5 657.1 233.1 655.9 233 655.3 233.2 655.7 233.7 656.9 234.1 658.1 234.2 658.7 233.9M639 389.4 638.8 388.4 638.3 388 637.8 388.4 637.6 389.4 637.8 390.3 638.3 390.8 638.8 390.3 639 389.4M641.4 243.1 640.9 243 639.8 243.1 638.7 243.3 638.3 243.5 638.8 243.7 639.9 243.6 641 243.3 641.4 243.1M232.8 292.9 232.5 292.7 231.8 292.7 231 292.7 230.7 292.9 231 293.1 231.8 293.2 232.5 293.1 232.8 292.9M206.8 325.5 206.7 325 206.6 324.8 206.4 325 206.3 325.5 206.4 326 206.6 326.2 206.7 326 206.8 325.5M339.9 329.5 339.6 329.2 339 329.1 338.4 329.2 338.1 329.5 338.4 329.8 339 329.9 339.6 329.8 339.9 329.5M349.1 332.1 348.8 331.6 347.7 331.3 346.6 331.2 346.1 331.5 346.4 331.9 347.5 332.3 348.6 332.4 349.1 332.1M360.2 320.8 359.9 320.3 359.1 320.1 358.4 320.3 358.1 320.8 358.4 321.2 359.1 321.4 359.9 321.2 360.2 320.8M410.1 326.3 410.2 325.6 409.7 324.9 408.9 324.5 408.3 324.7 408.2 325.3 408.7 326 409.5 326.4 410.1 326.3M491.5 277.2 491.4 277 491.1 276.9 490.8 277 490.7 277.2 490.8 277.4 491.1 277.4 491.4 277.4 491.5 277.2M494.6 278.4 494.4 278.2 494.1 278.1 493.7 278.2 493.5 278.4 493.7 278.6 494.1 278.7 494.4 278.6 494.6 278.4M488.8 276.2 488.7 276 488.5 275.9 488.2 276 488.1 276.2 488.2 276.4 488.5 276.5 488.7 276.4 488.8 276.2M608.7 316.2 608.5 315.6 608.2 315.3 607.8 315.6 607.7 316.2 607.8 316.8 608.2 317.1 608.5 316.8 608.7 316.2M359.7 256.4 359.5 256.2 359 256.1 358.5 256.2 358.3 256.4 358.5 256.5 359 256.6 359.5 256.5 359.7 256.4M170.5 214.2 170.3 213.4 170 213.1 169.6 213.4 169.4 214.2 169.6 214.9 170 215.2 170.3 214.9 170.5 214.2M178.2 212.6 177.8 212.3 177 212.2 176.1 212.3 175.8 212.6 176.1 212.9 177 213 177.8 212.9 178.2 212.6M675.5 192.7 675.1 192.2 674 192 672.9 192.2 672.4 192.7 672.9 193.1 674 193.3 675.1 193.1 675.5 192.7M143.7 245.5 143.5 245.2 142.8 245.1 142.2 245.2 142 245.5 142.2 245.8 142.8 245.9 143.5 245.8 143.7 245.5M180.3 247.9 180.1 247.6 179.4 247 178.6 246.6 178.2 246.6 178.4 246.9 179.1 247.5 179.9 247.9 180.3 247.9M186.9 251.4 186.8 251.1 186.6 250.9 186.4 251.1 186.2 251.4 186.4 251.8 186.6 252 186.8 251.8 186.9 251.4" fill="none" stroke="#000" stroke-width="0.9" stroke-linejoin="round" stroke-linecap="round"/><path d="M548.9 200.5 552.4 198.8 558.5 197.9 561.1 200.2 555.9 201.1 551.5 201.1 548.9 200.5zM562.9 208.1 568.1 205.9 575.1 204.9 572.5 207.2 566.4 208.2 562.9 208.1zM573.4 212.1 582.1 211 576.9 211.6 573.4 212.1zM598.2 226.6 595.2 222.9 596.1 220.7 597.9 223.3 599.1 226.2 598.2 226.6zM266.2 234.3 269.7 232.9 274.1 233.4 275.9 233.4zM188.9 320.9 189.6 324.4 191.5 329.7 191.2 327.1 189.4 321.8 188.9 320.9zM197.1 331.6 198 334.9 198.5 339.3 199.2 339.8 198.5 335.8 197.6 332 197.1 331.6z" fill="#000" fill-opacity=".85" stroke="#000" stroke-width="0.3"/>
<line x1="190.1" y1="158.3" x2="190.1" y2="472.3" stroke="#000" stroke-opacity=".75" stroke-width="1" stroke-dasharray="8.5 3.2"/>
<line x1="242.6" y1="158.3" x2="242.6" y2="472.3" stroke="#000" stroke-opacity=".75" stroke-width="1" stroke-dasharray="8.5 3.2"/>
<line x1="295.1" y1="157.3" x2="295.1" y2="472.3" stroke="#000" stroke-width="1.8"/>
<line x1="347.6" y1="158.3" x2="347.6" y2="472.3" stroke="#000" stroke-opacity=".75" stroke-width="1" stroke-dasharray="8.5 3.2"/>
<line x1="400.1" y1="158.3" x2="400.1" y2="472.3" stroke="#000" stroke-opacity=".75" stroke-width="1" stroke-dasharray="8.5 3.2"/>
<line x1="452.6" y1="157.3" x2="452.6" y2="472.3" stroke="#000" stroke-width="1.8"/>
<line x1="505.1" y1="158.3" x2="505.1" y2="472.3" stroke="#000" stroke-opacity=".75" stroke-width="1" stroke-dasharray="8.5 3.2"/>
<line x1="557.6" y1="158.3" x2="557.6" y2="472.3" stroke="#000" stroke-opacity=".75" stroke-width="1" stroke-dasharray="8.5 3.2"/>
<line x1="610.1" y1="157.3" x2="610.1" y2="472.3" stroke="#000" stroke-width="1.8"/>
<line x1="662.6" y1="158.3" x2="662.6" y2="472.3" stroke="#000" stroke-opacity=".75" stroke-width="1" stroke-dasharray="8.5 3.2"/>
<line x1="715.1" y1="158.3" x2="715.1" y2="472.3" stroke="#000" stroke-opacity=".75" stroke-width="1" stroke-dasharray="8.5 3.2"/>
<line x1="138.6" y1="209.8" x2="767.6" y2="209.8" stroke="#000" stroke-opacity=".7" stroke-width="1" stroke-dasharray="5.6 2.7"/>
<line x1="138.6" y1="262.3" x2="767.6" y2="262.3" stroke="#000" stroke-opacity=".7" stroke-width="1" stroke-dasharray="5.6 2.7"/>
<line x1="137.6" y1="314.8" x2="767.6" y2="314.8" stroke="#000" stroke-width="1.8"/>
<line x1="138.6" y1="367.3" x2="767.6" y2="367.3" stroke="#000" stroke-opacity=".7" stroke-width="1" stroke-dasharray="5.6 2.7"/>
<line x1="138.6" y1="419.8" x2="767.6" y2="419.8" stroke="#000" stroke-opacity=".7" stroke-width="1" stroke-dasharray="5.6 2.7"/>
</g>
<path d="M155.1 472.3v-4.5M155.1 157.3v4.5M172.6 472.3v-4.5M172.6 157.3v4.5M190.1 472.3v-4.5M190.1 157.3v4.5M207.6 472.3v-4.5M207.6 157.3v4.5M225.1 472.3v-4.5M225.1 157.3v4.5M242.6 472.3v-4.5M242.6 157.3v4.5M260.1 472.3v-4.5M260.1 157.3v4.5M277.6 472.3v-4.5M277.6 157.3v4.5M295.1 472.3v-4.5M295.1 157.3v4.5M312.6 472.3v-4.5M312.6 157.3v4.5M330.1 472.3v-4.5M330.1 157.3v4.5M347.6 472.3v-4.5M347.6 157.3v4.5M365.1 472.3v-4.5M365.1 157.3v4.5M382.6 472.3v-4.5M382.6 157.3v4.5M400.1 472.3v-4.5M400.1 157.3v4.5M417.6 472.3v-4.5M417.6 157.3v4.5M435.1 472.3v-4.5M435.1 157.3v4.5M452.6 472.3v-4.5M452.6 157.3v4.5M470.1 472.3v-4.5M470.1 157.3v4.5M487.6 472.3v-4.5M487.6 157.3v4.5M505.1 472.3v-4.5M505.1 157.3v4.5M522.6 472.3v-4.5M522.6 157.3v4.5M540.1 472.3v-4.5M540.1 157.3v4.5M557.6 472.3v-4.5M557.6 157.3v4.5M575.1 472.3v-4.5M575.1 157.3v4.5M592.6 472.3v-4.5M592.6 157.3v4.5M610.1 472.3v-4.5M610.1 157.3v4.5M627.6 472.3v-4.5M627.6 157.3v4.5M645.1 472.3v-4.5M645.1 157.3v4.5M662.6 472.3v-4.5M662.6 157.3v4.5M680.1 472.3v-4.5M680.1 157.3v4.5M697.6 472.3v-4.5M697.6 157.3v4.5M715.1 472.3v-4.5M715.1 157.3v4.5M732.6 472.3v-4.5M732.6 157.3v4.5M750.1 472.3v-4.5M750.1 157.3v4.5M137.6 454.8h4.5M767.6 454.8h-4.5M137.6 437.3h4.5M767.6 437.3h-4.5M137.6 419.8h4.5M767.6 419.8h-4.5M137.6 402.3h4.5M767.6 402.3h-4.5M137.6 384.8h4.5M767.6 384.8h-4.5M137.6 367.3h4.5M767.6 367.3h-4.5M137.6 349.8h4.5M767.6 349.8h-4.5M137.6 332.3h4.5M767.6 332.3h-4.5M137.6 314.8h4.5M767.6 314.8h-4.5M137.6 297.3h4.5M767.6 297.3h-4.5M137.6 279.8h4.5M767.6 279.8h-4.5M137.6 262.3h4.5M767.6 262.3h-4.5M137.6 244.8h4.5M767.6 244.8h-4.5M137.6 227.3h4.5M767.6 227.3h-4.5M137.6 209.8h4.5M767.6 209.8h-4.5M137.6 192.3h4.5M767.6 192.3h-4.5M137.6 174.8h4.5M767.6 174.8h-4.5" stroke="#000" stroke-width="1.2" fill="none"/><path d="M137.6 472.3v-9.0M137.6 157.3v9.0M190.1 472.3v-9.0M190.1 157.3v9.0M242.6 472.3v-9.0M242.6 157.3v9.0M295.1 472.3v-9.0M295.1 157.3v9.0M347.6 472.3v-9.0M347.6 157.3v9.0M400.1 472.3v-9.0M400.1 157.3v9.0M452.6 472.3v-9.0M452.6 157.3v9.0M505.1 472.3v-9.0M505.1 157.3v9.0M557.6 472.3v-9.0M557.6 157.3v9.0M610.1 472.3v-9.0M610.1 157.3v9.0M662.6 472.3v-9.0M662.6 157.3v9.0M715.1 472.3v-9.0M715.1 157.3v9.0M767.6 472.3v-9.0M767.6 157.3v9.0M137.6 472.3h9.0M767.6 472.3h-9.0M137.6 419.8h9.0M767.6 419.8h-9.0M137.6 367.3h9.0M767.6 367.3h-9.0M137.6 314.8h9.0M767.6 314.8h-9.0M137.6 262.3h9.0M767.6 262.3h-9.0M137.6 209.8h9.0M767.6 209.8h-9.0M137.6 157.3h9.0M767.6 157.3h-9.0" stroke="#000" stroke-width="1.8" fill="none"/>
<rect x="137.6" y="157.3" width="630.0" height="315.0" fill="none" stroke="#000" stroke-width="2.6"/>
<rect x="780.7" y="461.93" width="18.1" height="10.47" fill="#8800aa"/>
<rect x="780.7" y="451.55" width="18.1" height="10.47" fill="#3300aa"/>
<rect x="780.7" y="441.18" width="18.1" height="10.47" fill="#0000bb"/>
<rect x="780.7" y="430.81" width="18.1" height="10.47" fill="#0000dd"/>
<rect x="780.7" y="420.43" width="18.1" height="10.47" fill="#0022ee"/>
<rect x="780.7" y="410.06" width="18.1" height="10.47" fill="#0055ee"/>
<rect x="780.7" y="399.69" width="18.1" height="10.47" fill="#0088ff"/>
<rect x="780.7" y="389.32" width="18.1" height="10.47" fill="#00bbff"/>
<rect x="780.7" y="378.94" width="18.1" height="10.47" fill="#00ffff"/>
<rect x="780.7" y="368.57" width="18.1" height="10.47" fill="#00ffcc"/>
<rect x="780.7" y="358.20" width="18.1" height="10.47" fill="#00ff88"/>
<rect x="780.7" y="347.82" width="18.1" height="10.47" fill="#00ff44"/>
<rect x="780.7" y="337.45" width="18.1" height="10.47" fill="#00ff00"/>
<rect x="780.7" y="327.08" width="18.1" height="10.47" fill="#22ff00"/>
<rect x="780.7" y="316.70" width="18.1" height="10.47" fill="#55ff00"/>
<rect x="780.7" y="306.33" width="18.1" height="10.47" fill="#88ff00"/>
<rect x="780.7" y="295.96" width="18.1" height="10.47" fill="#bbff00"/>
<rect x="780.7" y="285.58" width="18.1" height="10.47" fill="#eeff00"/>
<rect x="780.7" y="275.21" width="18.1" height="10.47" fill="#ffdd00"/>
<rect x="780.7" y="264.84" width="18.1" height="10.47" fill="#ffaa00"/>
<rect x="780.7" y="254.47" width="18.1" height="10.47" fill="#ff7700"/>
<rect x="780.7" y="244.09" width="18.1" height="10.47" fill="#ff4400"/>
<rect x="780.7" y="233.72" width="18.1" height="10.47" fill="#ff0000"/>
<rect x="780.7" y="223.35" width="18.1" height="10.47" fill="#ff3333"/>
<rect x="780.7" y="212.97" width="18.1" height="10.47" fill="#ff6666"/>
<rect x="780.7" y="202.60" width="18.1" height="10.47" fill="#ff9999"/>
<path d="M780.7 461.93H798.8M780.7 451.55H798.8M780.7 441.18H798.8M780.7 430.81H798.8M780.7 420.43H798.8M780.7 410.06H798.8M780.7 399.69H798.8M780.7 389.32H798.8M780.7 378.94H798.8M780.7 368.57H798.8M780.7 358.20H798.8M780.7 347.82H798.8M780.7 337.45H798.8M780.7 327.08H798.8M780.7 316.70H798.8M780.7 306.33H798.8M780.7 295.96H798.8M780.7 285.58H798.8M780.7 275.21H798.8M780.7 264.84H798.8M780.7 254.47H798.8M780.7 244.09H798.8M780.7 233.72H798.8M780.7 223.35H798.8M780.7 212.97H798.8" stroke="#000" stroke-width="1.7" fill="none"/>
<rect x="780.7" y="202.6" width="18.1" height="269.7" fill="none" stroke="#000" stroke-width="2.6"/>
<text x="806.8" y="476.4" class="b" style="letter-spacing:.35px;font-size:14.2px">0</text><text x="806.8" y="445.3" class="b" style="letter-spacing:.35px;font-size:14.2px">2.4</text><text x="806.8" y="414.2" class="b" style="letter-spacing:.35px;font-size:14.2px">4.8</text><text x="806.8" y="383.0" class="b" style="letter-spacing:.35px;font-size:14.2px">7.2</text><text x="806.8" y="351.9" class="b" style="letter-spacing:.35px;font-size:14.2px">9.6</text><text x="806.8" y="320.8" class="b" style="letter-spacing:.35px;font-size:14.2px">12</text><text x="806.8" y="289.7" class="b" style="letter-spacing:.35px;font-size:14.2px">14.4</text><text x="806.8" y="258.6" class="b" style="letter-spacing:.35px;font-size:14.2px">16.8</text><text x="806.8" y="227.4" class="b" style="letter-spacing:.35px;font-size:14.2px">19.2</text>
<text x="138.0" y="491.6" class="b" text-anchor="middle">0</text><text x="190.5" y="491.6" class="b" text-anchor="middle">30</text><text x="243.0" y="491.6" class="b" text-anchor="middle">60</text><text x="295.5" y="491.6" class="b" text-anchor="middle">90</text><text x="348.0" y="491.6" class="b" text-anchor="middle">120</text><text x="400.5" y="491.6" class="b" text-anchor="middle">150</text><text x="453.0" y="491.6" class="b" text-anchor="middle">180</text><text x="505.5" y="491.6" class="b" text-anchor="middle">210</text><text x="558.0" y="491.6" class="b" text-anchor="middle">240</text><text x="610.5" y="491.6" class="b" text-anchor="middle">270</text><text x="663.0" y="491.6" class="b" text-anchor="middle">300</text><text x="715.5" y="491.6" class="b" text-anchor="middle">330</text><text x="768.0" y="491.6" class="b" text-anchor="middle">360</text>
<text x="130.2" y="162.6" class="b" text-anchor="end">90</text><text x="130.2" y="215.1" class="b" text-anchor="end">60</text><text x="130.2" y="267.6" class="b" text-anchor="end">30</text><text x="130.2" y="320.1" class="b" text-anchor="end">0</text><text x="130.2" y="372.6" class="b" text-anchor="end">−30</text><text x="130.2" y="425.1" class="b" text-anchor="end">−60</text><text x="130.2" y="477.6" class="b" text-anchor="end">−90</text>
<g class="t" id="title"><text x="281.5" y="119.5" textLength="67" lengthAdjust="spacing">mean</text><text x="360" y="119.5" textLength="57" lengthAdjust="spacing">Daily</text><text x="430" y="119.5" textLength="32" lengthAdjust="spacing">Air</text><text x="474" y="119.5" textLength="151" lengthAdjust="spacing">temperature</text></g>
<text x="62" y="138.8" class="u" id="dn" textLength="121" lengthAdjust="spacing">(degrees_north)</text>
<text x="671.3" y="509.7" class="u" id="de" textLength="114" lengthAdjust="spacing">(degrees_east)</text>
<text x="405.3" y="535.3" class="a" id="lon" textLength="94.5" lengthAdjust="spacing">Longitude</text>
<text transform="translate(87.3 353.7) rotate(-90)" class="a" id="lat" textLength="78.5" lengthAdjust="spacing">Latitude</text>
</svg>
</body></html>
